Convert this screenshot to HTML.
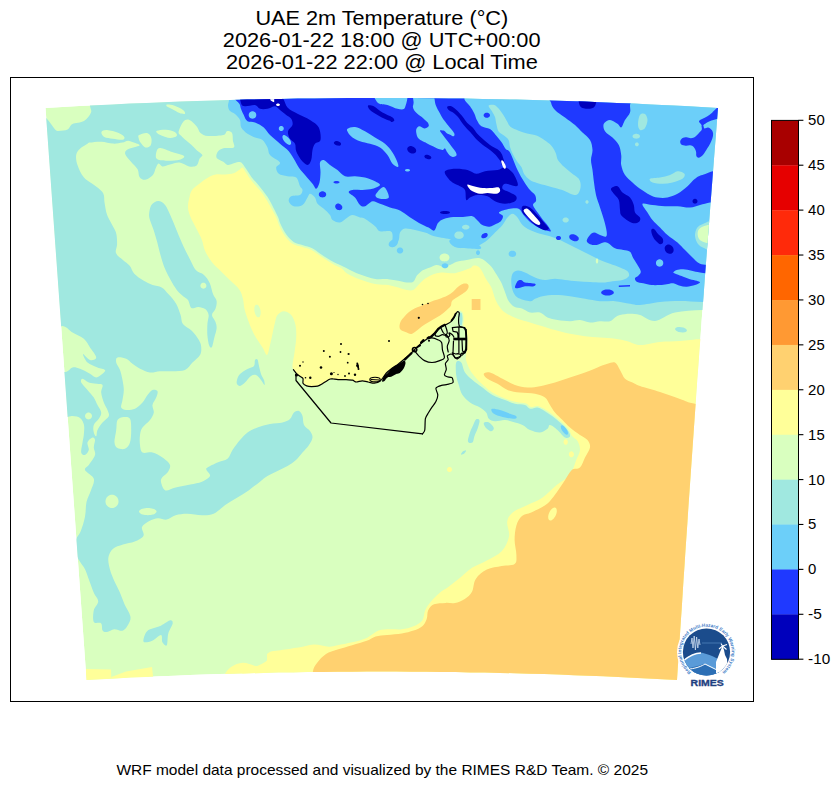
<!DOCTYPE html>
<html><head><meta charset="utf-8"><title>UAE 2m Temperature</title>
<style>
html,body{margin:0;padding:0;background:#fff;}
body{width:840px;height:788px;position:relative;overflow:hidden;font-family:"Liberation Sans",sans-serif;}
svg text{font-family:"Liberation Sans",sans-serif;}
</style></head><body>
<svg width="840" height="788" viewBox="0 0 840 788" style="position:absolute;left:0;top:0">
<defs><clipPath id="dom"><path d="M45.5,108.0 L62.3,107.0 L79.1,106.1 L95.9,105.2 L112.8,104.4 L129.6,103.6 L146.4,102.9 L163.2,102.2 L180.0,101.6 L196.8,101.0 L213.6,100.5 L230.4,100.0 L247.2,99.6 L264.1,99.2 L280.9,98.9 L297.7,98.6 L314.5,98.4 L331.3,98.2 L348.1,98.1 L364.9,98.0 L381.8,98.0 L398.6,98.0 L415.4,98.1 L432.2,98.2 L449.0,98.4 L465.8,98.6 L482.6,98.9 L499.4,99.2 L516.2,99.6 L533.1,100.0 L549.9,100.5 L566.7,101.0 L583.5,101.6 L600.3,102.2 L617.1,102.9 L633.9,103.6 L650.8,104.4 L667.6,105.2 L684.4,106.1 L701.2,107.0 L718.0,108.0 L716.9,122.3 L715.8,136.6 L714.6,150.9 L713.5,165.2 L712.4,179.5 L711.3,193.8 L710.2,208.1 L709.1,222.4 L708.0,236.7 L706.9,251.1 L705.8,265.4 L704.7,279.7 L703.7,294.0 L702.6,308.3 L701.5,322.6 L700.5,336.9 L699.4,351.2 L698.4,365.5 L697.3,379.8 L696.3,394.1 L695.3,408.4 L694.3,422.7 L693.3,437.0 L692.3,451.3 L691.3,465.6 L690.3,479.9 L689.3,494.2 L688.3,508.5 L687.4,522.8 L686.4,537.1 L685.4,551.5 L684.5,565.8 L683.5,580.1 L682.6,594.4 L681.7,608.7 L680.7,623.0 L679.8,637.3 L678.9,651.6 L677.9,665.9 L677.0,680.0 L662.2,679.2 L647.5,678.4 L632.7,677.7 L618.0,677.0 L603.2,676.3 L588.4,675.7 L573.7,675.2 L558.9,674.6 L544.1,674.1 L529.4,673.7 L514.6,673.3 L499.9,672.9 L485.1,672.6 L470.3,672.4 L455.6,672.1 L440.8,671.9 L426.0,671.8 L411.3,671.7 L396.5,671.6 L381.8,671.6 L367.0,671.6 L352.2,671.7 L337.5,671.8 L322.7,671.9 L307.9,672.1 L293.2,672.4 L278.4,672.6 L263.6,672.9 L248.9,673.3 L234.1,673.7 L219.4,674.1 L204.6,674.6 L189.8,675.1 L175.1,675.7 L160.3,676.3 L145.5,677.0 L130.8,677.6 L116.0,678.4 L101.3,679.2 L86.5,680.0Z"/></clipPath></defs>
<rect x="0" y="0" width="840" height="788" fill="#ffffff"/>
<g clip-path="url(#dom)" shape-rendering="geometricPrecision">
<path d="M45.5,108.0 L62.3,107.0 L79.1,106.1 L95.9,105.2 L112.8,104.4 L129.6,103.6 L146.4,102.9 L163.2,102.2 L180.0,101.6 L196.8,101.0 L213.6,100.5 L230.4,100.0 L247.2,99.6 L264.1,99.2 L280.9,98.9 L297.7,98.6 L314.5,98.4 L331.3,98.2 L348.1,98.1 L364.9,98.0 L381.8,98.0 L398.6,98.0 L415.4,98.1 L432.2,98.2 L449.0,98.4 L465.8,98.6 L482.6,98.9 L499.4,99.2 L516.2,99.6 L533.1,100.0 L549.9,100.5 L566.7,101.0 L583.5,101.6 L600.3,102.2 L617.1,102.9 L633.9,103.6 L650.8,104.4 L667.6,105.2 L684.4,106.1 L701.2,107.0 L718.0,108.0 L716.9,122.3 L715.8,136.6 L714.6,150.9 L713.5,165.2 L712.4,179.5 L711.3,193.8 L710.2,208.1 L709.1,222.4 L708.0,236.7 L706.9,251.1 L705.8,265.4 L704.7,279.7 L703.7,294.0 L702.6,308.3 L701.5,322.6 L700.5,336.9 L699.4,351.2 L698.4,365.5 L697.3,379.8 L696.3,394.1 L695.3,408.4 L694.3,422.7 L693.3,437.0 L692.3,451.3 L691.3,465.6 L690.3,479.9 L689.3,494.2 L688.3,508.5 L687.4,522.8 L686.4,537.1 L685.4,551.5 L684.5,565.8 L683.5,580.1 L682.6,594.4 L681.7,608.7 L680.7,623.0 L679.8,637.3 L678.9,651.6 L677.9,665.9 L677.0,680.0 L662.2,679.2 L647.5,678.4 L632.7,677.7 L618.0,677.0 L603.2,676.3 L588.4,675.7 L573.7,675.2 L558.9,674.6 L544.1,674.1 L529.4,673.7 L514.6,673.3 L499.9,672.9 L485.1,672.6 L470.3,672.4 L455.6,672.1 L440.8,671.9 L426.0,671.8 L411.3,671.7 L396.5,671.6 L381.8,671.6 L367.0,671.6 L352.2,671.7 L337.5,671.8 L322.7,671.9 L307.9,672.1 L293.2,672.4 L278.4,672.6 L263.6,672.9 L248.9,673.3 L234.1,673.7 L219.4,674.1 L204.6,674.6 L189.8,675.1 L175.1,675.7 L160.3,676.3 L145.5,677.0 L130.8,677.6 L116.0,678.4 L101.3,679.2 L86.5,680.0Z" fill="#d9ffbf"/>
<path d="M90.0,90.0C141.7,86.6 292.5,85.0 400.0,85.0C507.5,85.0 679.2,52.3 735.0,90.0C790.8,127.7 740.3,274.3 735.0,311.0C729.7,347.7 713.0,309.8 703.0,310.0C693.0,310.2 683.0,310.7 675.0,312.5C667.0,314.3 660.8,320.6 655.0,321.0C649.2,321.4 644.2,316.2 640.0,315.0C635.8,313.8 633.3,313.8 630.0,313.8C626.7,313.8 622.5,314.4 620.0,315.0C617.5,315.6 616.7,316.5 615.0,317.5C613.3,318.5 612.5,320.6 610.0,321.2C607.5,321.9 603.3,321.0 600.0,321.2C596.7,321.5 593.3,322.7 590.0,322.5C586.7,322.3 583.3,320.2 580.0,320.0C576.7,319.8 573.8,321.2 570.0,321.2C566.2,321.2 561.2,320.6 557.5,320.0C553.8,319.4 550.4,318.8 547.5,317.5C544.6,316.2 542.9,313.3 540.0,312.5C537.1,311.7 533.0,313.1 530.0,312.5C527.0,311.9 524.6,309.6 522.0,308.6C519.4,307.6 516.5,308.0 514.3,306.7C512.1,305.4 510.2,303.6 508.6,301.0C507.0,298.4 506.1,294.6 504.8,291.4C503.5,288.2 502.6,285.2 501.0,282.0C499.4,278.8 497.1,275.3 495.2,272.4C493.3,269.5 492.0,267.1 489.5,264.8C487.0,262.5 483.8,259.1 480.0,258.3C476.2,257.5 470.6,259.4 466.7,260.0C462.8,260.6 459.5,260.9 456.7,261.7C453.9,262.5 452.2,264.2 450.0,265.0C447.8,265.8 445.5,266.7 443.3,266.7C441.1,266.7 438.9,264.9 436.7,265.0C434.5,265.1 432.2,266.7 430.0,267.5C427.8,268.3 425.0,269.2 423.3,270.0C421.6,270.8 421.1,271.5 420.0,272.5C418.9,273.5 417.8,274.3 416.7,275.8C415.6,277.3 415.0,280.6 413.3,281.7C411.6,282.8 409.2,282.6 406.7,282.5C404.2,282.4 401.4,281.4 398.3,280.8C395.2,280.2 391.9,279.5 388.3,279.2C384.7,278.9 380.3,279.6 376.7,279.2C373.1,278.8 370.0,277.7 366.7,276.7C363.4,275.7 360.0,274.7 356.7,273.3C353.4,271.9 349.5,269.7 346.7,268.3C343.9,266.9 342.2,266.1 340.0,265.0C337.8,263.9 336.6,263.8 333.5,262.0C330.4,260.2 324.9,256.7 321.3,254.4C317.8,252.1 315.2,249.8 312.2,248.3C309.1,246.8 306.1,246.2 303.0,245.2C299.9,244.2 296.7,244.0 293.9,242.2C291.1,240.4 288.5,237.6 286.3,234.6C284.1,231.6 281.9,226.9 280.5,224.0C279.1,221.1 279.2,219.7 278.0,217.0C276.8,214.3 275.1,211.1 273.5,208.0C271.9,204.9 270.2,201.2 268.5,198.5C266.8,195.8 265.3,193.9 263.5,191.5C261.7,189.1 259.5,186.4 257.5,184.0C255.5,181.6 253.2,179.4 251.4,177.0C249.6,174.6 248.3,172.1 246.7,169.8C245.1,167.5 243.4,164.5 242.0,163.2C240.6,161.9 239.9,161.9 238.3,162.0C236.7,162.1 234.2,163.3 232.4,163.8C230.6,164.3 229.1,165.3 227.6,165.0C226.1,164.7 225.1,162.9 223.3,161.7C221.5,160.5 217.6,159.5 216.7,157.9C215.8,156.3 216.5,153.6 217.6,152.0C218.7,150.4 220.6,149.1 223.3,148.3C226.0,147.5 232.2,148.7 233.8,147.4C235.4,146.1 233.2,143.1 232.9,140.7C232.6,138.3 233.0,134.6 232.0,133.0C231.0,131.4 228.4,130.9 227.0,131.2C225.6,131.5 226.5,134.2 223.3,135.0C220.1,135.8 211.8,136.3 208.0,136.0C204.2,135.7 202.4,134.6 200.5,133.0C198.6,131.4 198.6,128.6 196.7,126.4C194.8,124.2 191.2,120.6 189.0,119.8C186.8,119.0 185.0,119.7 183.3,121.7C181.6,123.7 178.9,129.6 178.6,132.0C178.3,134.4 180.3,134.7 181.4,136.0C182.5,137.3 183.6,138.4 185.2,139.8C186.8,141.2 189.1,142.8 191.0,144.5C192.9,146.2 194.8,148.4 196.7,150.2C198.6,151.9 201.9,153.6 202.4,155.0C202.9,156.4 200.4,157.1 199.5,158.8C198.6,160.6 198.4,164.2 196.7,165.5C194.9,166.8 191.9,166.9 189.0,166.4C186.1,165.9 182.7,162.9 179.5,162.6C176.3,162.3 172.8,163.9 170.0,164.5C167.2,165.1 164.3,166.6 162.4,166.4C160.5,166.2 159.7,163.3 158.6,163.6C157.5,163.9 156.6,166.4 155.7,168.3C154.8,170.2 154.7,173.1 152.9,175.0C151.2,176.9 147.4,179.5 145.2,179.8C143.0,180.1 140.8,178.7 139.5,176.9C138.2,175.2 139.0,171.8 137.6,169.3C136.2,166.8 133.1,164.2 131.0,161.7C128.9,159.1 125.7,156.1 125.2,154.0C124.7,151.9 125.6,150.7 128.0,149.3C130.4,147.9 138.5,146.6 139.5,145.5C140.5,144.4 135.7,143.4 133.8,142.6C131.9,141.8 129.9,140.7 128.0,140.7C126.1,140.7 124.9,142.1 122.4,142.6C119.9,143.1 116.4,143.8 112.9,143.6C109.4,143.4 105.2,141.9 101.4,141.7C97.6,141.5 92.3,142.3 90.0,142.6C87.7,142.9 89.2,142.7 87.5,143.8C85.8,144.8 81.9,146.9 80.0,148.8C78.1,150.6 76.7,152.3 76.2,155.0C75.8,157.7 76.2,161.2 77.5,165.0C78.8,168.8 80.7,173.8 84.0,177.5C87.3,181.2 94.3,184.8 97.5,187.5C100.7,190.2 102.2,191.1 103.4,193.7C104.6,196.3 104.0,199.5 104.6,202.9C105.2,206.3 105.8,210.9 106.9,214.3C108.0,217.7 109.9,220.4 111.4,223.4C112.9,226.4 115.0,229.2 116.0,232.6C117.0,236.0 117.1,240.6 117.1,244.0C117.1,247.4 115.0,250.4 116.0,253.1C117.0,255.8 120.6,257.9 122.9,260.0C125.2,262.1 127.8,263.4 129.7,265.7C131.6,268.0 132.0,271.2 134.3,273.7C136.6,276.2 140.4,278.7 143.4,280.6C146.4,282.5 149.6,284.0 152.6,285.1C155.6,286.2 159.0,285.9 161.7,287.4C164.4,288.9 166.2,291.6 168.6,294.3C171.0,297.0 174.0,300.0 176.0,303.4C178.0,306.8 179.4,311.5 180.6,314.9C181.8,318.3 181.0,321.3 182.9,324.0C184.8,326.7 189.3,328.2 192.0,330.9C194.7,333.6 197.4,337.3 198.9,340.0C200.4,342.7 201.1,344.5 201.2,347.0C201.4,349.5 201.5,352.4 200.0,355.0C198.5,357.6 195.0,360.0 192.5,362.5C190.0,365.0 188.3,368.5 185.0,370.0C181.7,371.5 176.7,371.0 172.5,371.2C168.3,371.5 163.8,371.0 160.0,371.2C156.2,371.5 153.3,372.9 150.0,372.5C146.7,372.1 142.9,370.2 140.0,368.8C137.1,367.3 134.8,365.4 132.5,363.8C130.2,362.1 128.8,359.8 126.2,358.8C123.8,357.7 119.2,356.9 117.5,357.5C115.8,358.1 115.8,360.4 116.2,362.5C116.7,364.6 119.0,367.1 120.0,370.0C121.0,372.9 121.9,376.7 122.5,380.0C123.1,383.3 123.8,386.7 123.8,390.0C123.8,393.3 122.9,397.1 122.5,400.0C122.1,402.9 120.6,405.8 121.2,407.5C121.9,409.2 124.0,409.8 126.2,410.0C128.5,410.2 132.3,410.0 135.0,408.8C137.7,407.5 140.4,404.8 142.5,402.5C144.6,400.2 145.8,397.1 147.5,395.0C149.2,392.9 150.8,390.6 152.5,390.0C154.2,389.4 156.9,390.0 157.5,391.2C158.1,392.5 157.1,395.2 156.2,397.5C155.4,399.8 152.9,402.5 152.5,405.0C152.1,407.5 154.2,410.0 153.8,412.5C153.3,415.0 151.9,417.5 150.0,420.0C148.1,422.5 144.2,425.0 142.5,427.5C140.8,430.0 140.4,432.1 140.0,435.0C139.6,437.9 139.6,442.1 140.0,445.0C140.4,447.9 140.4,451.2 142.5,452.5C144.6,453.8 149.2,451.7 152.5,452.5C155.8,453.3 159.6,455.4 162.5,457.5C165.4,459.6 169.2,462.5 170.0,465.0C170.8,467.5 168.8,470.5 167.5,472.5C166.2,474.5 163.6,475.4 162.5,477.0C161.4,478.6 160.5,479.8 161.0,482.0C161.5,484.2 163.0,489.5 165.4,490.4C167.8,491.3 171.5,488.5 175.6,487.5C179.7,486.5 185.8,485.6 190.2,484.6C194.6,483.6 198.6,483.1 201.9,481.7C205.2,480.3 209.2,477.9 210.0,476.0C210.8,474.1 206.9,471.4 206.5,470.0C206.1,468.6 205.7,468.8 207.5,467.5C209.3,466.2 214.2,464.0 217.5,462.5C220.8,461.0 225.0,460.8 227.5,458.8C230.0,456.7 230.4,453.1 232.5,450.0C234.6,446.9 237.5,442.9 240.0,440.0C242.5,437.1 244.6,434.6 247.5,432.5C250.4,430.4 253.8,428.9 257.5,427.5C261.2,426.1 265.8,424.8 270.0,424.0C274.2,423.2 279.2,423.3 282.5,422.5C285.8,421.7 288.1,420.7 290.0,419.0C291.9,417.3 292.5,413.8 294.0,412.5C295.5,411.2 297.6,410.4 299.0,411.0C300.4,411.6 301.7,413.7 302.5,416.0C303.3,418.3 302.8,422.5 304.0,425.0C305.2,427.5 308.6,428.9 310.0,431.0C311.4,433.1 312.7,435.2 312.5,437.5C312.3,439.8 310.7,442.5 309.0,445.0C307.3,447.5 304.7,450.0 302.5,452.5C300.3,455.0 298.5,457.8 296.0,460.0C293.5,462.2 290.6,464.2 287.5,466.0C284.4,467.8 280.8,469.3 277.5,471.0C274.2,472.7 270.4,474.2 267.5,476.0C264.6,477.8 263.1,479.3 260.0,481.7C256.9,484.1 252.4,487.7 248.6,490.4C244.8,493.1 240.9,495.3 237.0,497.7C233.1,500.1 229.1,502.3 225.2,505.0C221.3,507.7 217.5,512.1 213.6,513.8C209.7,515.5 206.3,515.3 201.9,515.3C197.5,515.3 191.7,513.8 187.3,513.8C182.9,513.8 179.0,514.3 175.6,515.3C172.2,516.3 169.7,519.1 166.8,519.6C163.9,520.1 160.9,518.0 158.0,518.2C155.1,518.4 152.0,519.5 149.3,521.0C146.6,522.5 143.0,524.5 142.0,527.0C141.0,529.5 144.7,533.3 143.5,535.7C142.3,538.1 138.1,540.1 134.7,541.6C131.3,543.1 126.7,543.3 123.0,544.5C119.3,545.7 115.2,546.7 112.8,548.9C110.4,551.1 108.9,554.2 108.4,557.6C107.9,561.0 108.9,565.4 109.9,569.3C110.9,573.2 112.6,577.1 114.3,581.0C116.0,584.9 118.3,588.8 120.0,592.7C121.7,596.6 122.8,600.4 124.5,604.3C126.2,608.2 129.6,612.8 130.3,616.0C131.0,619.2 130.1,620.9 128.9,623.3C127.7,625.7 125.4,629.6 123.0,630.6C120.6,631.6 117.0,629.0 114.3,629.2C111.6,629.4 109.0,631.8 107.0,632.0C105.0,632.2 103.6,632.1 102.6,630.6C101.6,629.1 102.5,624.8 101.0,623.3C99.5,621.8 95.0,624.1 93.8,621.9C92.6,619.7 93.1,613.6 93.8,610.2C94.5,606.8 98.2,604.3 98.2,601.4C98.2,598.5 95.3,596.1 93.8,592.7C92.3,589.3 90.9,584.9 89.4,581.0C87.9,577.1 86.7,572.7 85.0,569.3C83.3,565.9 80.7,563.2 79.2,560.5C77.7,557.8 76.5,556.4 76.0,553.0C75.5,549.6 75.2,543.6 76.0,540.0C76.8,536.4 79.2,535.2 80.7,531.3C82.2,527.4 84.0,521.6 85.0,516.7C86.0,511.8 85.5,506.4 86.5,502.0C87.5,497.6 89.7,494.3 90.9,490.4C92.1,486.5 94.8,482.2 93.8,478.8C92.8,475.4 85.8,472.3 85.0,470.0C84.2,467.7 87.1,467.5 88.8,465.0C90.4,462.5 94.2,457.9 95.0,455.0C95.8,452.1 93.8,450.0 93.8,447.5C93.8,445.0 95.2,441.7 95.0,440.0C94.8,438.3 93.8,437.1 92.5,437.5C91.2,437.9 88.1,440.4 87.5,442.5C86.9,444.6 89.2,447.9 88.8,450.0C88.3,452.1 86.2,454.6 85.0,455.0C83.8,455.4 81.7,454.6 81.2,452.5C80.8,450.4 82.1,445.4 82.5,442.5C82.9,439.6 83.5,437.9 83.8,435.0C84.0,432.1 84.6,427.8 84.0,425.0C83.4,422.2 82.0,419.5 80.0,418.0C78.0,416.5 76.2,416.3 72.0,416.0C67.8,415.7 57.8,423.3 55.0,416.0C52.2,408.7 53.2,379.3 55.0,372.0C56.8,364.7 63.1,372.8 66.0,372.0C68.9,371.2 70.2,368.0 72.5,367.5C74.8,367.0 77.1,367.7 80.0,368.8C82.9,369.8 87.3,372.3 90.0,373.8C92.7,375.2 94.2,377.5 96.2,377.5C98.3,377.5 101.0,375.0 102.5,373.8C104.0,372.5 105.8,371.0 105.0,370.0C104.2,369.0 100.4,368.8 97.5,367.5C94.6,366.2 89.9,364.8 87.5,362.5C85.1,360.2 82.6,354.4 83.0,354.0C83.4,353.6 87.8,359.4 90.0,360.0C92.2,360.6 96.2,359.6 96.2,357.5C96.2,355.4 92.1,350.6 90.0,347.5C87.9,344.4 86.7,341.2 83.8,338.8C80.8,336.2 76.0,334.6 72.5,332.5C69.0,330.4 67.9,327.4 62.5,326.0C57.1,324.6 44.1,356.5 40.0,324.0C35.9,291.5 35.1,163.2 38.0,131.0C40.9,98.8 52.6,131.2 57.5,131.0C62.4,130.8 65.0,130.7 67.5,129.5C70.0,128.3 69.8,125.4 72.5,124.0C75.2,122.6 80.9,122.9 84.0,121.0C87.1,119.1 90.0,115.1 91.0,112.5C92.0,109.9 90.2,109.2 90.0,105.5C89.8,101.8 38.3,93.4 90.0,90.0Z" fill="#a0e8e0"/>
<path d="M101.4,132.0C101.9,130.8 104.1,129.8 107.0,130.0C109.9,130.2 115.7,131.8 118.6,133.0C121.5,134.2 123.7,135.9 124.3,137.0C124.9,138.1 124.3,139.5 122.4,139.8C120.5,140.1 115.9,139.3 112.9,138.8C109.9,138.3 106.2,138.1 104.3,137.0C102.4,135.9 101.0,133.2 101.4,132.0Z" fill="#d9ffbf"/>
<path d="M139.1,135.0C140.5,134.2 145.1,132.6 147.1,133.1C149.1,133.6 150.7,135.8 151.3,137.9C151.9,140.0 151.6,143.9 150.6,145.5C149.6,147.1 146.9,147.9 145.2,147.4C143.5,146.9 141.6,144.2 140.5,142.6C139.4,141.0 138.8,139.2 138.6,137.9C138.4,136.6 137.7,135.8 139.1,135.0Z" fill="#d9ffbf"/>
<path d="M157.0,130.8C158.5,130.2 163.0,129.5 166.0,129.7C169.0,129.9 173.0,130.9 174.8,132.0C176.6,133.1 177.5,135.0 176.7,136.0C175.9,137.0 172.6,138.0 170.0,137.9C167.4,137.8 163.6,136.2 161.4,135.4C159.2,134.6 157.7,133.8 157.0,133.0C156.3,132.2 155.5,131.4 157.0,130.8Z" fill="#d9ffbf"/>
<path d="M156.7,151.0C157.3,149.2 157.9,147.8 160.5,148.0C163.1,148.2 168.1,150.7 172.0,152.0C175.9,153.3 182.8,154.7 184.0,156.0C185.2,157.3 182.5,159.0 179.5,159.8C176.5,160.6 169.8,160.9 166.0,160.7C162.2,160.5 158.2,160.4 156.7,158.8C155.1,157.2 156.1,152.8 156.7,151.0Z" fill="#d9ffbf"/>
<path d="M167.0,104.5C168.2,104.3 171.3,104.6 174.0,105.5C176.7,106.4 181.2,108.6 183.0,110.0C184.8,111.4 185.6,113.2 185.0,113.7C184.4,114.2 181.7,113.8 179.5,113.0C177.3,112.2 174.1,110.1 172.0,109.0C169.9,107.9 167.8,107.2 167.0,106.5C166.2,105.8 165.8,104.7 167.0,104.5Z" fill="#d9ffbf"/>
<path d="M117.5,420.0C118.8,417.8 121.7,417.2 123.8,417.0C125.8,416.8 128.8,416.6 130.0,418.8C131.2,420.9 131.2,426.0 131.2,430.0C131.2,434.0 131.0,439.4 130.0,442.5C129.0,445.6 127.1,447.8 125.0,448.8C122.9,449.7 119.2,449.0 117.5,448.0C115.8,447.0 114.7,445.5 114.5,442.5C114.3,439.5 115.8,433.8 116.2,430.0C116.8,426.2 116.2,422.2 117.5,420.0Z" fill="#d9ffbf"/>
<path d="M92.0,416.0C92.0,416.7 91.7,417.5 91.3,418.1C90.9,418.6 90.2,419.1 89.6,419.3C88.9,419.5 88.1,419.5 87.4,419.3C86.8,419.1 86.1,418.6 85.7,418.1C85.3,417.5 85.0,416.7 85.0,416.0C85.0,415.3 85.3,414.5 85.7,413.9C86.1,413.4 86.8,412.9 87.4,412.7C88.1,412.5 88.9,412.5 89.6,412.7C90.2,412.9 90.9,413.4 91.3,413.9C91.7,414.5 92.0,415.3 92.0,416.0Z" fill="#d9ffbf"/>
<path d="M118.5,501.4C118.5,502.7 118.0,504.2 117.3,505.3C116.5,506.3 115.2,507.3 114.0,507.7C112.8,508.1 111.2,508.1 110.0,507.7C108.8,507.3 107.5,506.3 106.7,505.3C106.0,504.2 105.5,502.7 105.5,501.4C105.5,500.1 106.0,498.6 106.7,497.5C107.5,496.5 108.8,495.5 110.0,495.1C111.2,494.7 112.8,494.7 114.0,495.1C115.2,495.5 116.5,496.5 117.3,497.5C118.0,498.6 118.5,500.1 118.5,501.4Z" fill="#d9ffbf"/>
<path d="M156.6,511.6C156.6,512.3 155.9,513.1 154.9,513.7C153.9,514.3 152.2,514.8 150.5,515.0C148.9,515.2 146.7,515.2 145.1,515.0C143.4,514.8 141.7,514.3 140.7,513.7C139.7,513.1 139.0,512.3 139.0,511.6C139.0,510.9 139.7,510.1 140.7,509.5C141.7,508.9 143.4,508.4 145.1,508.2C146.7,508.0 148.9,508.0 150.5,508.2C152.2,508.4 153.9,508.9 154.9,509.5C155.9,510.1 156.6,510.9 156.6,511.6Z" fill="#d9ffbf"/>
<path d="M206.4,285.7C206.4,286.3 206.2,287.0 205.8,287.5C205.5,287.9 204.9,288.4 204.3,288.6C203.8,288.7 203.0,288.7 202.5,288.6C201.9,288.4 201.3,287.9 201.0,287.5C200.6,287.0 200.4,286.3 200.4,285.7C200.4,285.1 200.6,284.4 201.0,283.9C201.3,283.5 201.9,283.0 202.5,282.8C203.0,282.7 203.8,282.7 204.3,282.8C204.9,283.0 205.5,283.5 205.8,283.9C206.2,284.4 206.4,285.1 206.4,285.7Z" fill="#d9ffbf"/>
<path d="M149.1,214.3C149.3,211.6 149.9,207.3 151.4,205.1C152.9,202.9 156.0,201.0 158.3,201.0C160.6,201.0 163.0,202.5 165.1,205.1C167.2,207.7 169.0,212.4 170.9,216.6C172.8,220.8 174.5,225.4 176.6,230.3C178.7,235.2 181.1,241.4 183.4,246.3C185.7,251.2 188.2,256.0 190.3,260.0C192.4,264.0 193.7,267.8 196.0,270.3C198.3,272.8 201.7,272.8 204.0,274.9C206.3,277.0 208.2,279.7 209.7,282.9C211.2,286.1 211.9,291.3 213.1,294.3C214.2,297.3 216.2,298.6 216.6,301.1C217.0,303.6 216.2,306.8 215.4,309.1C214.6,311.4 212.0,312.8 212.0,314.9C212.0,317.0 214.6,319.4 215.4,321.7C216.2,324.0 216.8,325.9 216.6,328.6C216.4,331.3 215.1,334.6 214.3,337.7C213.5,340.8 212.8,345.6 212.0,346.9C211.2,348.2 210.1,347.6 209.3,345.7C208.5,343.8 207.7,339.0 207.4,335.4C207.1,331.8 207.2,327.4 207.4,324.0C207.6,320.6 209.0,317.4 208.6,314.9C208.2,312.4 206.8,310.4 205.1,309.1C203.4,307.8 200.6,307.1 198.3,306.9C196.0,306.7 193.1,309.1 191.4,308.0C189.7,306.9 189.5,302.1 188.0,300.0C186.5,297.9 184.2,297.1 182.3,295.4C180.4,293.7 178.5,292.2 176.6,289.7C174.7,287.2 172.8,284.0 170.9,280.6C169.0,277.2 166.8,273.3 165.1,269.1C163.4,264.9 161.9,260.0 160.6,255.4C159.3,250.8 158.2,245.9 157.1,241.7C155.9,237.5 154.8,233.7 153.7,230.3C152.6,226.9 151.1,223.8 150.3,221.1C149.5,218.4 148.9,217.0 149.1,214.3Z" fill="#a0e8e0"/>
<path d="M206.4,285.7C206.4,286.3 206.2,287.0 205.8,287.5C205.5,287.9 204.9,288.4 204.3,288.6C203.8,288.7 203.0,288.7 202.5,288.6C201.9,288.4 201.3,287.9 201.0,287.5C200.6,287.0 200.4,286.3 200.4,285.7C200.4,285.1 200.6,284.4 201.0,283.9C201.3,283.5 201.9,283.0 202.5,282.8C203.0,282.7 203.8,282.7 204.3,282.8C204.9,283.0 205.5,283.5 205.8,283.9C206.2,284.4 206.4,285.1 206.4,285.7Z" fill="#d9ffbf"/>
<path d="M237.0,380.0C237.5,378.3 238.2,375.8 240.0,374.0C241.8,372.2 245.2,370.3 247.5,369.0C249.8,367.7 252.8,367.5 254.0,366.0C255.2,364.5 254.4,361.1 255.0,360.0C255.6,358.9 256.8,358.5 257.5,359.5C258.2,360.5 258.4,363.6 259.0,366.0C259.6,368.4 260.2,371.7 261.0,374.0C261.8,376.3 263.4,378.2 264.0,380.0C264.6,381.8 265.0,385.0 264.5,385.0C264.0,385.0 262.4,381.7 261.0,380.0C259.6,378.3 257.7,375.7 256.0,375.0C254.3,374.3 252.8,374.8 251.0,376.0C249.2,377.2 246.8,380.8 245.0,382.5C243.2,384.2 241.3,385.8 240.0,386.0C238.7,386.2 237.5,385.0 237.0,384.0C236.5,383.0 236.5,381.7 237.0,380.0Z" fill="#a0e8e0"/>
<path d="M143.5,639.4C144.0,637.5 145.1,632.8 147.8,630.6C150.5,628.4 155.8,628.0 159.5,626.3C163.2,624.6 167.5,620.9 169.7,620.4C171.9,619.9 172.9,621.1 172.7,623.3C172.5,625.5 169.3,629.9 168.3,633.5C167.3,637.1 167.8,643.7 166.8,645.2C165.8,646.7 163.4,644.0 162.4,642.3C161.4,640.6 162.7,635.2 161.0,635.0C159.3,634.8 154.9,639.6 152.2,640.8C149.5,642.0 146.3,642.5 144.9,642.3C143.5,642.1 143.0,641.3 143.5,639.4Z" fill="#a0e8e0"/>
<path d="M82.5,378.8C83.8,378.8 86.5,381.7 88.8,382.5C91.0,383.3 94.0,383.3 96.2,383.8C98.5,384.2 101.7,383.5 102.5,385.0C103.3,386.5 101.0,389.6 101.2,392.5C101.5,395.4 102.7,399.6 103.8,402.5C104.8,405.4 106.7,407.7 107.5,410.0C108.3,412.3 109.6,414.2 108.8,416.2C107.9,418.3 104.4,420.2 102.5,422.5C100.6,424.8 98.5,427.7 97.5,430.0C96.5,432.3 96.9,435.8 96.2,436.2C95.6,436.7 94.2,434.4 93.8,432.5C93.3,430.6 92.9,427.3 93.8,425.0C94.6,422.7 97.5,420.8 98.8,418.8C100.0,416.7 101.5,414.8 101.2,412.5C101.0,410.2 98.8,407.5 97.5,405.0C96.2,402.5 95.4,400.0 93.8,397.5C92.1,395.0 89.6,392.5 87.5,390.0C85.4,387.5 82.1,384.4 81.2,382.5C80.4,380.6 81.2,378.8 82.5,378.8Z" fill="#d9ffbf"/>
<path d="M239.5,169.8C238.0,170.8 236.0,172.5 233.6,173.3C231.2,174.1 228.2,174.3 225.2,174.5C222.2,174.7 218.7,173.9 215.7,174.5C212.7,175.1 210.2,176.4 207.4,178.0C204.6,179.6 201.6,182.0 199.0,184.0C196.4,186.0 193.6,187.8 192.0,190.0C190.4,192.2 190.2,194.2 189.5,197.0C188.8,199.8 187.9,203.7 188.0,207.0C188.1,210.3 189.0,213.1 190.3,216.6C191.6,220.1 194.1,224.2 196.0,228.0C197.9,231.8 200.2,235.6 201.7,239.4C203.2,243.2 203.4,247.1 205.1,250.9C206.8,254.7 209.3,258.9 212.0,262.3C214.7,265.7 218.0,268.3 221.1,271.4C224.2,274.4 227.2,277.6 230.3,280.6C233.4,283.7 237.3,286.6 239.4,289.7C241.5,292.8 242.2,295.8 243.0,299.0C243.8,302.2 243.7,305.5 244.5,309.0C245.3,312.5 246.8,316.5 248.0,320.0C249.2,323.5 250.6,327.0 252.0,330.0C253.4,333.0 254.5,335.1 256.2,338.0C258.0,340.9 260.7,344.7 262.5,347.5C264.3,350.3 265.8,355.4 267.0,355.0C268.2,354.6 269.1,348.5 270.0,345.0C270.9,341.5 271.7,337.5 272.5,333.8C273.3,330.0 274.2,325.6 275.0,322.5C275.8,319.4 276.0,316.9 277.5,315.0C279.0,313.1 281.5,311.2 283.8,311.2C286.0,311.2 289.3,312.7 291.2,315.0C293.2,317.3 294.7,321.2 295.5,325.0C296.3,328.8 296.4,332.9 296.2,337.5C296.1,342.1 295.1,347.9 294.5,352.5C293.9,357.1 292.7,362.1 292.5,365.0C292.3,367.9 292.7,368.3 293.4,369.7C294.1,371.1 295.5,372.6 296.5,373.6C297.5,374.7 298.4,375.2 299.5,376.0C300.6,376.8 302.4,377.2 303.0,378.4C303.6,379.6 302.4,381.9 303.0,383.2C303.6,384.4 305.3,385.3 306.7,385.9C308.1,386.5 309.7,386.6 311.5,386.6C313.3,386.7 315.8,386.7 317.6,386.2C319.4,385.7 321.0,384.6 322.4,383.8C323.8,383.0 324.7,382.2 326.0,381.4C327.3,380.6 329.0,379.4 330.2,379.0C331.4,378.6 332.0,378.9 333.3,379.0C334.6,379.1 336.0,379.5 338.0,379.6C340.0,379.7 342.9,379.5 345.3,379.6C347.7,379.7 350.7,379.8 352.5,380.2C354.3,380.6 354.6,381.9 356.2,382.0C357.8,382.1 360.2,380.8 362.2,380.8C364.2,380.8 366.2,381.6 368.2,382.0C370.2,382.4 372.3,383.4 374.3,383.2C376.3,383.0 378.3,382.7 380.3,381.0C382.3,379.3 384.4,375.1 386.4,373.0C388.3,370.9 390.1,369.6 392.0,368.2C393.9,366.8 395.9,365.8 397.8,364.4C399.7,363.0 401.6,361.3 403.5,359.7C405.4,358.1 407.4,356.5 409.2,354.9C410.9,353.3 412.4,351.8 414.0,350.2C415.6,348.6 417.1,347.0 418.8,345.4C420.6,343.8 422.6,342.1 424.5,340.7C426.4,339.3 428.3,338.2 430.2,336.8C432.1,335.4 434.2,333.6 435.9,332.0C437.6,330.4 438.9,328.6 440.6,327.3C442.3,326.1 444.6,325.4 446.3,324.5C448.0,323.6 449.7,322.7 451.0,321.6C452.3,320.5 453.2,319.1 454.0,317.8C454.8,316.5 455.2,315.2 455.8,314.0C456.4,312.8 456.9,311.3 457.7,310.8C458.5,310.3 459.6,310.4 460.5,310.8C461.4,311.2 462.5,312.0 463.0,313.5C463.5,315.0 463.6,318.0 463.6,320.0C463.6,322.0 462.9,324.2 463.2,325.5C463.5,326.8 464.9,326.2 465.5,327.5C466.1,328.8 466.7,330.8 467.0,333.0C467.3,335.2 467.5,338.1 467.5,340.6C467.5,343.2 467.2,345.9 467.0,348.3C466.8,350.7 466.2,353.1 466.0,355.0C465.8,356.9 465.3,357.5 466.0,360.0C466.7,362.5 468.3,367.0 470.0,370.0C471.7,373.0 473.7,375.3 476.0,378.0C478.3,380.7 481.2,383.5 484.0,386.0C486.8,388.5 489.5,390.9 493.0,393.0C496.5,395.1 501.2,397.0 505.0,398.5C508.8,400.0 512.5,401.2 516.0,402.0C519.5,402.8 523.5,402.7 526.0,403.5C528.5,404.3 529.0,406.6 531.0,407.0C533.0,407.4 535.5,405.5 538.0,406.0C540.5,406.5 543.5,408.5 546.0,410.0C548.5,411.5 550.5,413.1 553.0,415.0C555.5,416.9 558.4,419.2 561.0,421.5C563.6,423.8 566.7,426.6 568.5,429.0C570.3,431.4 570.5,434.0 572.0,436.0C573.5,438.0 576.2,438.7 577.5,441.0C578.8,443.3 580.2,446.8 580.0,450.0C579.8,453.2 577.5,456.7 576.2,460.0C575.0,463.3 573.9,467.2 572.5,470.0C571.1,472.8 570.6,474.5 568.0,477.0C565.4,479.5 561.3,481.4 557.0,484.8C552.7,488.2 547.2,494.3 542.3,497.7C537.4,501.1 532.4,502.6 527.5,505.0C522.6,507.4 516.1,509.6 512.7,512.4C509.3,515.2 507.8,517.7 507.2,521.7C506.6,525.7 509.9,531.5 509.0,536.4C508.1,541.3 505.4,547.2 501.7,551.2C498.0,555.2 491.8,557.6 486.9,560.4C481.9,563.2 476.3,565.0 472.0,567.8C467.7,570.6 464.9,573.8 461.0,577.0C457.1,580.2 452.1,584.2 448.6,586.8C445.1,589.4 442.7,590.3 439.8,592.7C436.9,595.1 433.4,598.5 431.0,601.4C428.6,604.3 426.6,607.0 425.2,610.2C423.8,613.4 424.2,617.7 422.3,620.4C420.4,623.1 417.0,624.7 413.6,626.2C410.2,627.7 405.8,628.7 401.9,629.2C398.0,629.7 394.1,629.0 390.2,629.2C386.3,629.4 382.4,629.1 378.5,630.6C374.6,632.1 371.2,636.0 366.8,638.0C362.4,640.0 357.1,641.1 352.2,642.3C347.3,643.5 341.5,644.5 337.6,645.2C333.7,645.9 332.8,646.8 328.9,646.7C325.0,646.6 318.7,644.6 314.3,644.6C309.9,644.6 307.5,645.9 302.6,646.7C297.7,647.5 290.6,648.6 285.0,649.6C279.4,650.6 272.0,650.8 269.0,652.5C266.0,654.2 267.3,653.8 267.0,660.0C266.7,666.2 194.8,683.3 267.0,690.0C339.2,696.7 621.2,700.0 700.0,700.0C778.8,700.0 733.3,750.2 740.0,690.0C746.7,629.8 746.2,397.5 740.0,339.0C733.8,280.5 713.0,338.7 703.0,339.0C693.0,339.3 687.2,340.5 680.0,341.0C672.8,341.5 666.7,341.3 660.0,342.0C653.3,342.7 645.4,345.1 640.0,345.0C634.6,344.9 631.7,342.3 627.5,341.2C623.3,340.2 619.6,339.4 615.0,338.8C610.4,338.1 605.0,337.9 600.0,337.5C595.0,337.1 590.0,336.9 585.0,336.2C580.0,335.6 575.0,334.8 570.0,333.8C565.0,332.7 559.6,331.2 555.0,330.0C550.4,328.8 546.7,327.5 542.5,326.2C538.3,325.0 534.2,323.8 530.0,322.5C525.8,321.2 521.7,320.4 517.5,318.8C513.3,317.1 508.1,314.6 505.0,312.5C501.9,310.4 500.6,308.2 499.0,306.0C497.4,303.8 496.5,302.1 495.2,299.0C493.9,295.9 492.9,290.9 491.4,287.6C489.9,284.3 487.9,282.3 486.0,279.0C484.1,275.7 482.0,270.2 480.0,268.0C478.0,265.8 475.7,265.4 474.0,265.5C472.3,265.6 472.3,267.3 470.0,268.3C467.7,269.3 462.8,270.9 460.0,271.7C457.2,272.5 456.1,273.2 453.3,273.3C450.5,273.4 446.1,272.5 443.3,272.5C440.5,272.5 438.9,272.8 436.7,273.3C434.5,273.9 432.2,274.7 430.0,275.8C427.8,276.9 425.2,278.5 423.3,280.0C421.4,281.5 420.0,283.3 418.3,285.0C416.6,286.7 415.2,289.2 413.3,290.0C411.4,290.8 409.2,290.4 406.7,290.0C404.2,289.6 401.4,288.3 398.3,287.5C395.2,286.7 391.9,285.6 388.3,285.0C384.7,284.4 380.3,284.8 376.7,284.2C373.1,283.6 370.0,282.7 366.7,281.7C363.4,280.7 360.0,279.7 356.7,278.3C353.4,276.9 349.2,275.0 346.7,273.3C344.2,271.6 343.9,269.9 341.5,268.3C339.1,266.7 336.0,265.8 332.5,263.7C329.0,261.6 324.0,258.3 320.5,256.0C317.0,253.7 314.5,251.5 311.5,250.0C308.5,248.5 305.7,248.0 302.5,247.0C299.3,246.0 295.4,245.6 292.5,243.8C289.6,242.0 287.2,239.0 285.0,236.0C282.8,233.0 280.9,229.0 279.5,226.0C278.1,223.0 277.8,220.8 276.5,218.0C275.2,215.2 273.4,211.9 271.8,209.0C270.2,206.1 268.6,203.1 267.0,200.5C265.4,197.9 264.2,195.8 262.5,193.5C260.8,191.2 258.5,188.8 256.5,186.5C254.5,184.2 252.4,181.8 250.7,179.5C248.9,177.2 247.4,174.5 246.0,172.5C244.6,170.5 243.6,167.9 242.5,167.5C241.4,167.1 241.0,168.8 239.5,169.8Z" fill="#ffff99"/>
<path d="M260.5,310.5C260.7,311.7 260.7,313.3 260.6,314.3C260.4,315.4 260.0,316.4 259.5,316.9C259.0,317.4 258.3,317.5 257.7,317.2C257.0,317.0 256.3,316.1 255.8,315.2C255.3,314.2 254.8,312.8 254.5,311.5C254.3,310.3 254.3,308.7 254.4,307.7C254.6,306.6 255.0,305.6 255.5,305.1C256.0,304.6 256.7,304.5 257.3,304.8C258.0,305.0 258.7,305.9 259.2,306.8C259.7,307.8 260.2,309.2 260.5,310.5Z" fill="#d9ffbf"/>
<path d="M86.0,669.0 L111.0,669.5 L111.5,685.0 L86.0,685.0Z" fill="#ffff99"/>
<path d="M111.3,677.0 L126.0,671.5 L152.0,667.0 L154.0,685.0 L111.0,685.0Z" fill="#ffff99"/>
<path d="M223.8,676.0C225.1,673.0 227.8,669.2 231.0,667.0C234.2,664.8 238.9,663.0 242.8,662.8C246.7,662.6 251.2,664.8 254.4,665.7C257.6,666.6 260.7,664.8 262.0,668.0C263.3,671.2 268.5,682.2 262.0,685.0C255.5,687.8 229.4,686.5 223.0,685.0C216.6,683.5 222.5,679.0 223.8,676.0Z" fill="#ffff99"/>
<path d="M483.8,373.8C484.2,372.7 486.9,371.7 490.0,372.5C493.1,373.3 498.3,376.7 502.5,378.8C506.7,380.8 510.8,383.5 515.0,385.0C519.2,386.5 523.3,387.3 527.5,387.5C531.7,387.7 535.4,387.1 540.0,386.2C544.6,385.4 550.0,384.0 555.0,382.5C560.0,381.0 565.0,379.2 570.0,377.5C575.0,375.8 580.4,374.2 585.0,372.5C589.6,370.8 593.8,369.0 597.5,367.5C601.2,366.0 604.6,364.6 607.5,363.8C610.4,362.9 612.9,361.5 615.0,362.5C617.1,363.5 618.3,367.3 620.0,370.0C621.7,372.7 622.9,376.7 625.0,378.8C627.1,380.8 630.0,381.3 632.5,382.5C635.0,383.7 635.4,384.4 640.0,386.0C644.6,387.6 653.3,389.8 660.0,392.0C666.7,394.2 674.0,397.0 680.0,399.0C686.0,401.0 686.0,402.2 696.0,404.0C706.0,405.8 732.7,360.7 740.0,410.0C747.3,459.3 780.0,651.7 740.0,700.0C700.0,748.3 571.2,701.7 500.0,700.0C428.8,698.3 344.0,694.7 312.8,690.0C281.6,685.3 312.1,676.5 312.8,672.0C313.5,667.5 315.0,665.8 317.2,662.8C319.4,659.8 322.6,656.2 326.0,654.0C329.4,651.8 333.2,651.1 337.6,649.6C342.0,648.1 347.3,646.7 352.2,645.2C357.1,643.7 362.9,642.2 366.8,640.8C370.7,639.3 372.2,637.5 375.6,636.5C379.0,635.5 382.9,635.5 387.3,635.0C391.7,634.5 397.5,634.2 401.9,633.5C406.3,632.8 410.2,631.8 413.6,630.6C417.0,629.4 420.1,628.1 422.3,626.2C424.5,624.3 425.7,621.7 426.7,619.0C427.7,616.3 427.0,612.7 428.2,610.2C429.4,607.8 431.1,605.5 434.0,604.3C436.9,603.1 442.2,603.1 445.7,602.9C449.2,602.7 451.8,603.6 455.0,603.0C458.2,602.4 462.0,600.9 464.8,599.0C467.6,597.1 470.2,595.1 472.0,591.8C473.8,588.4 473.3,582.6 475.8,578.9C478.3,575.2 482.6,571.8 486.9,569.6C491.2,567.5 497.1,566.9 501.7,566.0C506.3,565.1 512.1,565.9 514.6,564.0C517.1,562.1 516.4,558.9 516.4,554.9C516.4,550.9 514.6,544.9 514.6,540.0C514.6,535.1 515.2,529.4 516.4,525.4C517.6,521.4 519.5,518.2 522.0,516.0C524.5,513.8 527.8,513.9 531.2,512.4C534.6,510.9 539.2,508.8 542.3,507.0C545.4,505.2 547.1,503.9 549.6,501.4C552.1,498.9 554.5,495.4 557.0,492.0C559.5,488.6 561.9,484.7 564.4,481.0C566.9,477.3 569.2,472.2 571.8,470.0C574.4,467.8 577.8,469.6 580.0,467.5C582.2,465.4 583.3,460.8 585.0,457.5C586.7,454.2 589.6,450.4 590.0,447.5C590.4,444.6 589.2,442.1 587.5,440.0C585.8,437.9 582.9,437.1 580.0,435.0C577.1,432.9 572.9,430.0 570.0,427.5C567.1,425.0 565.0,422.5 562.5,420.0C560.0,417.5 557.1,415.0 555.0,412.5C552.9,410.0 551.7,407.5 550.0,405.0C548.3,402.5 547.5,399.4 545.0,397.5C542.5,395.6 539.2,394.6 535.0,393.8C530.8,392.9 524.6,393.1 520.0,392.5C515.4,391.9 511.2,391.5 507.5,390.0C503.8,388.5 500.8,385.6 497.5,383.8C494.2,381.9 489.8,380.4 487.5,378.8C485.2,377.1 483.3,374.8 483.8,373.8Z" fill="#ffd170"/>
<path d="M399.5,326.2C399.5,324.8 399.9,323.0 400.7,321.4C401.5,319.8 402.9,318.3 404.3,316.7C405.7,315.1 407.2,313.3 409.0,311.9C410.8,310.5 413.0,309.3 415.0,308.3C417.0,307.3 419.0,306.8 421.0,306.0C423.0,305.2 424.7,304.5 426.9,303.6C429.1,302.7 431.6,301.5 434.0,300.6C436.4,299.7 439.0,299.0 441.2,298.2C443.4,297.4 445.1,296.9 447.1,295.8C449.1,294.7 451.3,293.2 453.1,291.7C454.9,290.2 456.3,288.2 457.9,286.9C459.5,285.6 461.0,284.4 462.6,283.9C464.2,283.4 466.4,283.4 467.4,283.9C468.4,284.4 468.8,285.7 468.6,286.9C468.4,288.1 467.4,289.8 466.2,291.1C465.0,292.4 463.0,293.5 461.4,294.6C459.8,295.7 458.3,296.5 456.7,297.6C455.1,298.7 452.9,299.8 451.9,301.2C450.9,302.6 451.7,304.4 450.7,306.0C449.7,307.6 447.8,309.1 446.0,310.7C444.2,312.3 442.0,314.1 440.0,315.5C438.0,316.9 436.0,317.8 434.0,319.0C432.0,320.2 430.1,321.4 428.1,322.6C426.1,323.8 424.1,324.8 422.1,326.2C420.1,327.6 418.0,329.7 416.2,331.0C414.4,332.3 413.2,333.7 411.4,333.9C409.6,334.1 407.3,332.8 405.5,332.1C403.7,331.4 401.7,330.8 400.7,329.8C399.7,328.8 399.5,327.6 399.5,326.2Z" fill="#ffd170"/>
<path d="M471.7,299.0 L480.5,299.0 L480.5,310.0 L471.7,310.0Z" fill="#ffd170"/>
<path d="M567.9,442.0C567.9,442.5 567.7,443.2 567.5,443.6C567.2,444.1 566.8,444.5 566.4,444.7C566.0,444.8 565.4,444.8 565.0,444.7C564.6,444.5 564.2,444.1 563.9,443.6C563.7,443.2 563.5,442.5 563.5,442.0C563.5,441.5 563.7,440.8 563.9,440.4C564.2,439.9 564.6,439.5 565.0,439.3C565.4,439.2 566.0,439.2 566.4,439.3C566.8,439.5 567.2,439.9 567.5,440.4C567.7,440.8 567.9,441.5 567.9,442.0Z" fill="#ffff99"/>
<path d="M573.9,454.3C573.9,454.9 573.7,455.6 573.4,456.1C573.1,456.5 572.6,457.0 572.2,457.2C571.7,457.3 571.1,457.3 570.6,457.2C570.2,457.0 569.7,456.5 569.4,456.1C569.1,455.6 568.9,454.9 568.9,454.3C568.9,453.7 569.1,453.0 569.4,452.5C569.7,452.1 570.2,451.6 570.6,451.4C571.1,451.3 571.7,451.3 572.2,451.4C572.6,451.6 573.1,452.1 573.4,452.5C573.7,453.0 573.9,453.7 573.9,454.3Z" fill="#ffff99"/>
<path d="M452.0,469.5C452.0,470.0 451.8,470.6 451.5,471.0C451.2,471.4 450.7,471.7 450.3,471.9C449.8,472.0 449.2,472.0 448.7,471.9C448.3,471.7 447.8,471.4 447.5,471.0C447.2,470.6 447.0,470.0 447.0,469.5C447.0,469.0 447.2,468.4 447.5,468.0C447.8,467.6 448.3,467.3 448.7,467.1C449.2,467.0 449.8,467.0 450.3,467.1C450.7,467.3 451.2,467.6 451.5,468.0C451.8,468.4 452.0,469.0 452.0,469.5Z" fill="#ffff99"/>
<path d="M555.7,515.5C555.1,516.7 554.2,518.1 553.3,518.9C552.5,519.8 551.4,520.4 550.7,520.5C549.9,520.6 549.1,520.2 548.7,519.6C548.3,518.9 548.1,517.7 548.2,516.5C548.3,515.4 548.7,513.8 549.3,512.5C549.9,511.3 550.8,509.9 551.7,509.1C552.5,508.2 553.6,507.6 554.3,507.5C555.1,507.4 555.9,507.8 556.3,508.4C556.7,509.1 556.9,510.3 556.8,511.5C556.7,512.6 556.3,514.2 555.7,515.5Z" fill="#ffff99"/>
<path d="M456.2,362.5C457.1,360.4 459.8,360.8 461.2,362.5C462.7,364.2 463.1,369.6 465.0,372.5C466.9,375.4 469.6,377.5 472.5,380.0C475.4,382.5 479.2,385.0 482.5,387.5C485.8,390.0 488.8,392.9 492.5,395.0C496.2,397.1 501.2,398.5 505.0,400.0C508.8,401.5 511.7,402.9 515.0,403.8C518.3,404.6 522.5,404.2 525.0,405.0C527.5,405.8 527.9,408.3 530.0,408.8C532.1,409.2 535.0,407.1 537.5,407.5C540.0,407.9 542.5,409.8 545.0,411.2C547.5,412.7 550.0,414.4 552.5,416.2C555.0,418.1 557.5,420.2 560.0,422.5C562.5,424.8 565.8,427.7 567.5,430.0C569.2,432.3 570.4,435.0 570.0,436.2C569.6,437.5 567.1,438.5 565.0,437.5C562.9,436.5 560.0,432.1 557.5,430.0C555.0,427.9 551.7,425.2 550.0,425.0C548.3,424.8 549.2,427.5 547.5,428.8C545.8,430.0 542.9,432.3 540.0,432.5C537.1,432.7 532.9,431.2 530.0,430.0C527.1,428.8 525.0,426.2 522.5,425.0C520.0,423.8 517.9,423.3 515.0,422.5C512.1,421.7 508.3,420.2 505.0,420.0C501.7,419.8 497.7,421.5 495.0,421.2C492.3,421.0 490.2,420.2 488.8,418.8C487.3,417.3 487.7,414.4 486.2,412.5C484.8,410.6 482.7,409.2 480.0,407.5C477.3,405.8 472.9,404.6 470.0,402.5C467.1,400.4 464.4,397.9 462.5,395.0C460.6,392.1 459.8,388.3 458.8,385.0C457.7,381.7 456.7,378.8 456.2,375.0C455.8,371.2 455.4,364.6 456.2,362.5Z" fill="#a0e8e0"/>
<path d="M492.0,408.8C493.3,408.4 497.0,409.2 500.0,410.0C503.0,410.8 507.3,412.7 510.0,413.8C512.7,414.8 515.4,415.4 516.2,416.2C517.1,417.1 516.9,418.5 515.0,418.8C513.1,419.0 508.1,418.1 505.0,417.5C501.9,416.9 498.4,415.9 496.2,415.0C494.1,414.1 492.7,413.0 492.0,412.0C491.3,411.0 490.7,409.1 492.0,408.8Z" fill="#6ccff9"/>
<path d="M566.2,428.7C566.8,429.6 567.4,430.8 567.7,431.6C568.0,432.5 568.1,433.4 568.0,433.9C567.8,434.4 567.4,434.7 566.8,434.7C566.3,434.6 565.5,434.2 564.8,433.7C564.1,433.1 563.2,432.1 562.6,431.3C562.0,430.4 561.4,429.2 561.1,428.4C560.8,427.5 560.7,426.6 560.8,426.1C561.0,425.6 561.4,425.3 562.0,425.3C562.5,425.4 563.3,425.8 564.0,426.3C564.7,426.9 565.6,427.9 566.2,428.7Z" fill="#6ccff9"/>
<path d="M476.0,419.5C477.1,418.7 479.2,419.1 479.5,420.5C479.8,421.9 478.6,425.4 477.8,428.0C477.0,430.6 475.4,433.6 474.5,436.0C473.6,438.4 473.6,441.6 472.5,442.5C471.4,443.4 468.4,443.1 468.0,441.5C467.6,439.9 469.0,435.7 469.8,433.0C470.6,430.3 472.0,427.8 473.0,425.5C474.0,423.2 474.9,420.3 476.0,419.5Z" fill="#a0e8e0"/>
<path d="M465.8,450.6C465.9,450.8 466.0,451.1 465.8,451.5C465.7,451.8 465.3,452.4 464.9,452.8C464.6,453.2 464.0,453.7 463.5,454.0C463.0,454.3 462.5,454.5 462.1,454.6C461.7,454.7 461.4,454.6 461.2,454.4C461.1,454.2 461.0,453.9 461.2,453.5C461.3,453.2 461.7,452.6 462.1,452.2C462.4,451.8 463.0,451.3 463.5,451.0C464.0,450.7 464.5,450.5 464.9,450.4C465.3,450.3 465.6,450.4 465.8,450.6Z" fill="#a0e8e0"/>
<path d="M483.8,423.0C484.2,422.1 487.3,421.7 489.0,422.5C490.7,423.3 493.4,426.5 493.8,428.0C494.1,429.5 492.3,431.2 491.0,431.2C489.7,431.2 487.2,429.4 486.0,428.0C484.8,426.6 483.2,423.9 483.8,423.0Z" fill="#a0e8e0"/>
<path d="M458.7,314.0C459.0,313.2 460.9,312.2 461.5,313.0C462.1,313.8 462.5,316.9 462.5,319.0C462.5,321.1 462.0,324.6 461.5,325.4C461.0,326.2 459.8,325.2 459.5,324.0C459.2,322.8 459.9,319.7 459.8,318.0C459.7,316.3 458.4,314.8 458.7,314.0Z" fill="#a0e8e0"/>
<path d="M686.9,330.6C686.9,331.1 686.3,331.7 685.6,332.0C684.9,332.3 683.6,332.5 682.5,332.5C681.4,332.5 679.9,332.3 678.8,332.0C677.7,331.7 676.6,331.1 676.0,330.6C675.4,330.1 675.0,329.5 675.1,329.0C675.1,328.5 675.7,327.9 676.4,327.6C677.1,327.3 678.4,327.1 679.5,327.1C680.6,327.1 682.1,327.3 683.2,327.6C684.3,327.9 685.4,328.5 686.0,329.0C686.6,329.5 687.0,330.1 686.9,330.6Z" fill="#a0e8e0"/>
<path d="M229.0,90.0C270.8,87.5 395.7,85.0 480.0,85.0C564.3,85.0 692.5,53.7 735.0,90.0C777.5,126.3 740.3,267.7 735.0,303.0C729.7,338.3 712.2,302.3 703.0,302.0C693.8,301.7 687.2,301.0 680.0,301.0C672.8,301.0 666.7,301.3 660.0,302.0C653.3,302.7 645.0,304.7 640.0,305.0C635.0,305.3 634.2,304.4 630.0,303.8C625.8,303.1 620.0,301.7 615.0,301.2C610.0,300.8 605.0,301.7 600.0,301.2C595.0,300.8 590.0,299.6 585.0,298.8C580.0,297.9 575.0,296.9 570.0,296.2C565.0,295.6 559.6,295.0 555.0,295.0C550.4,295.0 545.8,295.6 542.5,296.2C539.2,296.9 537.1,297.9 535.0,298.8C532.9,299.6 532.9,301.5 530.0,301.2C527.1,301.0 520.4,299.4 517.5,297.5C514.6,295.6 513.5,292.9 512.5,290.0C511.5,287.1 511.2,282.8 511.2,280.0C511.3,277.2 511.9,274.6 513.0,273.0C514.1,271.4 516.0,270.6 518.0,270.5C520.0,270.4 522.2,271.3 525.0,272.5C527.8,273.7 531.7,276.2 535.0,277.5C538.3,278.8 541.7,279.8 545.0,280.0C548.3,280.2 551.7,278.8 555.0,278.8C558.3,278.8 561.2,279.6 565.0,280.0C568.8,280.4 573.3,280.9 577.5,281.2C581.7,281.6 585.8,281.8 590.0,282.0C594.2,282.2 598.8,282.6 602.5,282.5C606.2,282.4 609.2,281.7 612.5,281.2C615.8,280.8 619.8,280.8 622.5,280.0C625.2,279.2 627.9,277.7 628.8,276.2C629.6,274.8 629.0,272.7 627.5,271.2C626.0,269.8 622.9,268.8 620.0,267.5C617.1,266.2 613.3,265.0 610.0,263.8C606.7,262.5 603.3,261.5 600.0,260.0C596.7,258.5 593.3,256.7 590.0,255.0C586.7,253.3 583.3,251.7 580.0,250.0C576.7,248.3 573.3,246.7 570.0,245.0C566.7,243.3 563.3,241.5 560.0,240.0C556.7,238.5 553.3,237.3 550.0,236.2C546.7,235.2 543.3,234.8 540.0,233.8C536.7,232.7 532.9,231.5 530.0,230.0C527.1,228.5 524.6,227.1 522.5,225.0C520.4,222.9 519.2,219.4 517.5,217.5C515.8,215.6 514.2,213.8 512.5,213.8C510.8,213.8 509.2,215.6 507.5,217.5C505.8,219.4 504.6,222.5 502.5,225.0C500.4,227.5 497.5,230.0 495.0,232.5C492.5,235.0 490.3,237.8 487.5,240.0C484.7,242.2 480.8,244.7 478.0,246.0C475.2,247.3 473.3,247.3 470.5,247.6C467.7,247.9 463.9,247.9 461.0,247.6C458.1,247.3 454.9,247.0 453.3,245.7C451.7,244.4 453.0,241.3 451.4,240.0C449.8,238.7 446.6,238.6 443.8,238.0C441.0,237.4 437.4,237.1 434.3,236.2C431.2,235.3 428.2,233.5 425.0,232.5C421.8,231.5 418.3,230.7 415.0,230.0C411.7,229.3 407.5,228.1 405.0,228.5C402.5,228.9 401.0,230.6 400.0,232.5C399.0,234.4 399.6,237.8 398.8,240.0C397.9,242.2 396.4,245.1 395.0,246.0C393.6,246.9 390.9,246.7 390.5,245.5C390.1,244.3 392.4,241.3 392.5,239.0C392.6,236.7 393.1,232.8 391.0,231.5C388.9,230.2 382.7,232.1 380.0,231.2C377.3,230.4 377.5,228.3 375.0,226.2C372.5,224.2 367.5,220.2 365.0,218.8C362.5,217.3 362.1,218.1 360.0,217.5C357.9,216.9 354.6,215.0 352.5,215.0C350.4,215.0 349.6,216.2 347.5,217.5C345.4,218.8 342.5,222.1 340.0,222.5C337.5,222.9 334.2,221.2 332.5,220.0C330.8,218.8 331.5,216.9 330.0,215.0C328.5,213.1 325.8,210.6 323.8,208.8C321.7,206.9 319.0,205.6 317.5,203.8C316.0,201.9 316.2,199.2 315.0,197.5C313.8,195.8 311.2,193.8 310.0,193.8C308.8,193.8 308.8,195.6 307.5,197.5C306.2,199.4 304.8,203.5 302.5,205.0C300.2,206.5 296.0,206.9 293.8,206.2C291.5,205.6 289.2,202.9 288.8,201.2C288.3,199.6 289.4,197.3 291.2,196.2C293.1,195.2 298.1,196.0 300.0,195.0C301.9,194.0 302.5,191.5 302.5,190.0C302.5,188.5 301.0,188.3 300.0,186.2C299.0,184.2 298.3,179.2 296.2,177.5C294.2,175.8 290.4,176.9 287.5,176.2C284.6,175.6 280.6,175.2 278.8,173.8C276.9,172.3 276.0,169.4 276.2,167.5C276.5,165.6 281.0,164.6 280.0,162.5C279.0,160.4 272.1,157.5 270.0,155.0C267.9,152.5 268.8,150.0 267.5,147.5C266.2,145.0 264.6,141.7 262.5,140.0C260.4,138.3 257.5,138.5 255.0,137.5C252.5,136.5 249.8,135.4 247.5,133.8C245.2,132.1 242.5,129.8 241.2,127.5C240.0,125.2 241.0,122.2 240.0,120.0C239.0,117.8 236.7,115.5 235.0,114.0C233.3,112.5 231.2,112.3 230.0,111.0C228.8,109.7 228.2,107.8 228.0,106.0C227.8,104.2 228.8,102.7 229.0,100.0C229.2,97.3 187.2,92.5 229.0,90.0Z" fill="#6ccff9"/>
<path d="M397.6,240.8C398.0,241.4 398.1,242.3 397.8,243.1C397.6,243.8 397.0,244.8 396.3,245.4C395.6,246.1 394.5,246.7 393.6,247.0C392.7,247.2 391.6,247.3 390.8,247.1C390.0,246.9 389.3,246.4 389.0,245.8C388.6,245.2 388.5,244.3 388.8,243.5C389.0,242.8 389.6,241.8 390.3,241.2C391.0,240.5 392.1,239.9 393.0,239.6C393.9,239.4 395.0,239.3 395.8,239.5C396.6,239.7 397.3,240.2 397.6,240.8Z" fill="#6ccff9"/>
<path d="M403.2,250.5C403.2,251.1 403.0,251.8 402.6,252.3C402.2,252.7 401.6,253.2 401.0,253.4C400.4,253.5 399.6,253.5 399.0,253.4C398.4,253.2 397.8,252.7 397.4,252.3C397.0,251.8 396.8,251.1 396.8,250.5C396.8,249.9 397.0,249.2 397.4,248.7C397.8,248.3 398.4,247.8 399.0,247.6C399.6,247.5 400.4,247.5 401.0,247.6C401.6,247.8 402.2,248.3 402.6,248.7C403.0,249.2 403.2,249.9 403.2,250.5Z" fill="#6ccff9"/>
<path d="M480.0,252.7C480.0,253.2 479.8,253.7 479.6,254.1C479.4,254.5 479.0,254.8 478.6,255.0C478.2,255.1 477.8,255.1 477.4,255.0C477.0,254.8 476.6,254.5 476.4,254.1C476.2,253.7 476.0,253.2 476.0,252.7C476.0,252.2 476.2,251.7 476.4,251.3C476.6,250.9 477.0,250.6 477.4,250.4C477.8,250.3 478.2,250.3 478.6,250.4C479.0,250.6 479.4,250.9 479.6,251.3C479.8,251.7 480.0,252.2 480.0,252.7Z" fill="#6ccff9"/>
<path d="M516.2,253.8C516.2,254.4 515.9,255.2 515.5,255.7C515.0,256.2 514.3,256.6 513.6,256.8C512.9,257.0 511.9,257.0 511.2,256.8C510.5,256.6 509.8,256.2 509.3,255.7C508.9,255.2 508.6,254.4 508.6,253.8C508.6,253.2 508.9,252.4 509.3,251.9C509.8,251.4 510.5,251.0 511.2,250.8C511.9,250.6 512.9,250.6 513.6,250.8C514.3,251.0 515.0,251.4 515.5,251.9C515.9,252.4 516.2,253.2 516.2,253.8Z" fill="#6ccff9"/>
<path d="M448.3,265.8C448.3,266.3 448.0,266.9 447.7,267.3C447.3,267.7 446.6,268.0 446.0,268.2C445.4,268.3 444.6,268.3 444.0,268.2C443.4,268.0 442.7,267.7 442.3,267.3C442.0,266.9 441.7,266.3 441.7,265.8C441.7,265.3 442.0,264.7 442.3,264.3C442.7,263.9 443.4,263.6 444.0,263.4C444.6,263.3 445.4,263.3 446.0,263.4C446.6,263.6 447.3,263.9 447.7,264.3C448.0,264.7 448.3,265.3 448.3,265.8Z" fill="#6ccff9"/>
<path d="M450.0,240.0C452.5,238.8 465.0,239.0 470.0,240.0C475.0,241.0 478.3,244.5 480.0,246.0C481.7,247.5 481.7,248.6 480.0,249.0C478.3,249.4 474.2,248.8 470.0,248.5C465.8,248.2 458.3,248.4 455.0,247.0C451.7,245.6 447.5,241.2 450.0,240.0Z" fill="#6ccff9"/>
<path d="M488.6,105.7C489.0,104.6 492.6,104.5 494.3,105.0C496.0,105.5 497.2,107.0 498.6,108.6C500.0,110.1 501.5,112.2 502.9,114.3C504.3,116.4 505.8,119.3 507.1,121.4C508.4,123.5 508.8,125.5 510.7,127.1C512.6,128.6 515.9,129.6 518.6,130.7C521.3,131.8 524.0,132.8 527.1,133.6C530.2,134.4 534.2,134.6 537.1,135.7C540.0,136.8 541.9,138.3 544.3,140.0C546.7,141.7 549.5,143.5 551.4,145.7C553.3,147.8 554.6,150.5 555.7,152.9C556.8,155.3 556.5,157.6 557.9,160.0C559.3,162.4 562.0,164.9 564.3,167.1C566.5,169.2 569.0,171.0 571.4,172.9C573.8,174.8 577.0,176.5 578.6,178.6C580.2,180.7 580.7,183.3 580.7,185.7C580.7,188.1 579.7,191.3 578.6,192.9C577.5,194.5 576.4,195.2 574.3,195.0C572.1,194.8 568.6,192.5 565.7,191.4C562.8,190.3 560.2,189.6 557.1,188.6C554.0,187.6 550.4,186.6 547.1,185.7C543.8,184.8 540.0,183.8 537.1,182.9C534.2,182.0 532.1,181.4 530.0,180.0C527.9,178.6 525.7,176.5 524.3,174.3C522.9,172.2 522.6,169.2 521.4,167.1C520.2,164.9 518.5,163.5 517.1,161.4C515.7,159.3 514.1,156.7 512.9,154.3C511.7,151.9 510.7,149.5 510.0,147.1C509.3,144.7 509.6,141.9 508.6,140.0C507.7,138.1 506.0,137.1 504.3,135.7C502.6,134.3 499.9,133.3 498.6,131.4C497.3,129.5 497.0,126.7 496.4,124.3C495.8,121.9 495.7,119.2 495.0,117.1C494.3,114.9 493.2,113.3 492.1,111.4C491.0,109.5 488.2,106.8 488.6,105.7Z" fill="#a0e8e0"/>
<path d="M640.0,115.0C641.2,113.3 643.8,113.2 645.0,114.0C646.2,114.8 647.5,117.7 647.5,120.0C647.5,122.3 646.2,126.3 645.0,128.0C643.8,129.7 641.2,130.7 640.0,130.0C638.8,129.3 638.0,126.5 638.0,124.0C638.0,121.5 638.8,116.7 640.0,115.0Z" fill="#a0e8e0"/>
<path d="M640.0,136.2C640.0,136.7 639.7,137.3 639.3,137.7C638.9,138.1 638.1,138.5 637.4,138.6C636.7,138.8 635.8,138.8 635.1,138.6C634.4,138.5 633.6,138.1 633.2,137.7C632.8,137.3 632.5,136.7 632.5,136.2C632.5,135.8 632.8,135.2 633.2,134.8C633.6,134.4 634.4,134.0 635.1,133.9C635.8,133.7 636.7,133.7 637.4,133.9C638.1,134.0 638.9,134.4 639.3,134.8C639.7,135.2 640.0,135.8 640.0,136.2Z" fill="#a0e8e0"/>
<path d="M638.8,144.4C638.8,144.7 638.6,145.2 638.4,145.5C638.2,145.8 637.8,146.0 637.5,146.2C637.1,146.3 636.6,146.3 636.3,146.2C635.9,146.0 635.6,145.8 635.4,145.5C635.1,145.2 635.0,144.7 635.0,144.4C635.0,144.0 635.1,143.6 635.4,143.3C635.6,143.0 635.9,142.7 636.3,142.6C636.6,142.5 637.1,142.5 637.5,142.6C637.8,142.7 638.2,143.0 638.4,143.3C638.6,143.6 638.8,144.0 638.8,144.4Z" fill="#a0e8e0"/>
<path d="M650.0,178.8C651.2,177.9 656.7,178.1 660.0,177.5C663.3,176.9 667.1,176.0 670.0,175.0C672.9,174.0 675.1,171.5 677.5,171.2C679.9,171.0 683.7,172.5 684.5,173.8C685.3,175.0 684.5,177.3 682.5,178.8C680.5,180.2 675.8,181.7 672.5,182.5C669.2,183.3 665.8,183.8 662.5,183.8C659.2,183.8 654.6,183.3 652.5,182.5C650.4,181.7 648.8,179.6 650.0,178.8Z" fill="#a0e8e0"/>
<path d="M712.0,223.0C710.5,218.8 705.5,223.2 703.0,224.0C700.5,224.8 698.3,226.0 697.0,228.0C695.7,230.0 694.8,233.3 695.0,236.0C695.2,238.7 696.5,242.0 698.0,244.0C699.5,246.0 701.7,247.2 704.0,248.0C706.3,248.8 710.7,253.2 712.0,249.0C713.3,244.8 713.5,227.2 712.0,223.0Z" fill="#a0e8e0"/>
<path d="M712.0,225.8C710.5,223.2 705.3,225.6 703.0,226.5C700.7,227.4 698.8,229.1 698.0,231.0C697.2,232.9 697.7,236.2 698.5,238.0C699.3,239.8 700.8,241.0 703.0,241.7C705.2,242.4 710.5,244.7 712.0,242.0C713.5,239.3 713.5,228.4 712.0,225.8Z" fill="#d9ffbf"/>
<path d="M469.5,227.2C469.5,227.6 469.2,228.2 468.8,228.5C468.4,228.9 467.6,229.2 466.9,229.4C466.2,229.5 465.3,229.5 464.6,229.4C463.9,229.2 463.1,228.9 462.7,228.5C462.3,228.2 462.0,227.6 462.0,227.2C462.0,226.7 462.3,226.1 462.7,225.8C463.1,225.4 463.9,225.1 464.6,224.9C465.3,224.8 466.2,224.8 466.9,224.9C467.6,225.1 468.4,225.4 468.8,225.8C469.2,226.1 469.5,226.7 469.5,227.2Z" fill="#a0e8e0"/>
<path d="M463.8,235.2C463.8,235.9 463.4,236.8 462.9,237.4C462.3,238.0 461.4,238.6 460.5,238.8C459.6,239.0 458.5,239.0 457.6,238.8C456.7,238.6 455.8,238.0 455.2,237.4C454.7,236.8 454.3,235.9 454.3,235.2C454.3,234.5 454.7,233.6 455.2,233.0C455.8,232.4 456.7,231.8 457.6,231.6C458.5,231.4 459.6,231.4 460.5,231.6C461.4,231.8 462.3,232.4 462.9,233.0C463.4,233.6 463.8,234.5 463.8,235.2Z" fill="#a0e8e0"/>
<path d="M568.8,220.0C568.8,220.5 568.5,221.1 568.2,221.5C567.8,221.9 567.2,222.2 566.6,222.4C566.0,222.5 565.2,222.5 564.7,222.4C564.1,222.2 563.5,221.9 563.1,221.5C562.7,221.1 562.5,220.5 562.5,220.0C562.5,219.5 562.7,218.9 563.1,218.5C563.5,218.1 564.1,217.8 564.7,217.6C565.2,217.5 566.0,217.5 566.6,217.6C567.2,217.8 567.8,218.1 568.2,218.5C568.5,218.9 568.8,219.5 568.8,220.0Z" fill="#a0e8e0"/>
<path d="M598.2,261.0C598.2,261.5 598.1,262.1 598.0,262.5C597.8,262.9 597.6,263.2 597.4,263.4C597.1,263.5 596.9,263.5 596.6,263.4C596.4,263.2 596.2,262.9 596.0,262.5C595.9,262.1 595.8,261.5 595.8,261.0C595.8,260.5 595.9,259.9 596.0,259.5C596.2,259.1 596.4,258.8 596.6,258.6C596.9,258.5 597.1,258.5 597.4,258.6C597.6,258.8 597.8,259.1 598.0,259.5C598.1,259.9 598.2,260.5 598.2,261.0Z" fill="#d9ffbf"/>
<path d="M588.6,202.0C588.6,202.4 588.5,202.8 588.3,203.1C588.1,203.3 587.8,203.6 587.5,203.7C587.2,203.8 586.8,203.8 586.5,203.7C586.2,203.6 585.9,203.3 585.7,203.1C585.5,202.8 585.4,202.4 585.4,202.0C585.4,201.6 585.5,201.2 585.7,200.9C585.9,200.7 586.2,200.4 586.5,200.3C586.8,200.2 587.2,200.2 587.5,200.3C587.8,200.4 588.1,200.7 588.3,200.9C588.5,201.2 588.6,201.6 588.6,202.0Z" fill="#a0e8e0"/>
<path d="M561.0,238.0C561.0,238.4 560.8,238.9 560.5,239.2C560.2,239.5 559.7,239.8 559.3,239.9C558.8,240.0 558.2,240.0 557.7,239.9C557.3,239.8 556.8,239.5 556.5,239.2C556.2,238.9 556.0,238.4 556.0,238.0C556.0,237.6 556.2,237.1 556.5,236.8C556.8,236.5 557.3,236.2 557.7,236.1C558.2,236.0 558.8,236.0 559.3,236.1C559.7,236.2 560.2,236.5 560.5,236.8C560.8,237.1 561.0,237.6 561.0,238.0Z" fill="#1f39ff"/>
<path d="M578.7,239.5C578.5,240.1 577.9,240.6 577.1,240.9C576.4,241.2 575.3,241.3 574.4,241.2C573.5,241.0 572.3,240.6 571.5,240.1C570.7,239.6 569.9,238.8 569.5,238.2C569.2,237.5 569.1,236.6 569.3,236.0C569.5,235.4 570.1,234.9 570.9,234.6C571.6,234.3 572.7,234.2 573.6,234.3C574.5,234.5 575.7,234.9 576.5,235.4C577.3,235.9 578.1,236.7 578.5,237.3C578.8,238.0 578.9,238.9 578.7,239.5Z" fill="#1f39ff"/>
<path d="M449.5,257.5C449.5,258.3 449.1,259.2 448.5,259.9C448.0,260.5 447.0,261.1 446.0,261.3C445.1,261.5 443.9,261.5 443.0,261.3C442.0,261.1 441.0,260.5 440.5,259.9C439.9,259.2 439.5,258.3 439.5,257.5C439.5,256.7 439.9,255.8 440.5,255.1C441.0,254.5 442.0,253.9 443.0,253.7C443.9,253.5 445.1,253.5 446.0,253.7C447.0,253.9 448.0,254.5 448.5,255.1C449.1,255.8 449.5,256.7 449.5,257.5Z" fill="#d9ffbf"/>
<path d="M240.0,90.0C258.3,86.7 312.6,85.0 350.0,85.0C387.4,85.0 445.2,87.7 464.3,90.0C483.4,92.3 463.4,96.3 464.3,99.0C465.2,101.7 468.3,103.9 470.0,106.3C471.7,108.7 473.1,111.0 474.3,113.4C475.5,115.8 475.9,118.4 477.1,120.6C478.3,122.8 479.2,124.9 481.4,126.3C483.5,127.7 487.6,127.7 490.0,129.1C492.4,130.5 493.8,132.8 495.7,134.9C497.6,137.1 499.7,139.7 501.4,142.0C503.1,144.3 504.3,147.2 505.7,149.0C507.1,150.8 508.0,149.0 510.0,152.5C512.0,156.0 515.2,165.2 517.5,170.0C519.8,174.8 521.7,177.9 523.8,181.2C525.8,184.6 528.1,187.7 530.0,190.0C531.9,192.3 534.0,193.2 535.0,195.0C536.0,196.8 536.3,199.3 536.0,201.0C535.7,202.7 532.7,203.0 533.0,205.0C533.3,207.0 536.3,210.5 538.0,213.0C539.7,215.5 541.3,217.8 543.0,220.0C544.7,222.2 546.8,224.1 548.0,226.0C549.2,227.9 551.7,231.0 550.5,231.4C549.3,231.8 544.2,230.0 541.0,228.6C537.8,227.2 534.3,225.1 531.4,222.9C528.5,220.7 526.0,217.6 523.8,215.2C521.6,212.8 520.9,209.5 518.0,208.6C515.1,207.7 509.9,208.8 506.7,209.5C503.5,210.2 499.6,211.4 499.0,212.5C498.4,213.6 502.6,214.6 502.9,216.0C503.2,217.4 502.0,219.8 501.0,221.0C500.0,222.2 498.9,222.6 497.0,223.5C495.1,224.4 492.0,226.5 489.5,226.7C487.0,226.9 483.8,225.8 481.9,224.8C480.0,223.9 479.6,222.4 478.0,221.0C476.4,219.6 474.9,216.9 472.4,216.2C469.9,215.5 466.1,216.9 462.9,217.0C459.7,217.1 456.5,216.7 453.3,217.0C450.1,217.3 446.4,218.0 443.8,219.0C441.2,220.0 439.6,221.0 438.0,222.9C436.4,224.8 435.9,229.7 434.3,230.5C432.7,231.3 431.2,228.9 428.6,227.6C426.1,226.3 422.2,224.7 419.0,222.9C415.8,221.1 412.7,219.1 409.5,217.0C406.3,214.9 403.2,212.1 400.0,210.5C396.8,208.9 393.3,208.6 390.0,207.5C386.7,206.4 382.9,204.8 380.0,203.8C377.1,202.7 375.0,200.8 372.5,201.2C370.0,201.7 367.1,205.6 365.0,206.2C362.9,206.9 361.7,206.5 360.0,205.0C358.3,203.5 356.9,199.6 355.0,197.5C353.1,195.4 349.2,193.8 348.8,192.5C348.3,191.2 350.2,190.4 352.5,190.0C354.8,189.6 359.2,190.2 362.5,190.0C365.8,189.8 369.6,189.6 372.5,188.8C375.4,187.9 379.6,186.2 380.0,185.0C380.4,183.8 377.5,182.5 375.0,181.2C372.5,180.0 368.3,178.3 365.0,177.5C361.7,176.7 358.3,176.5 355.0,176.2C351.7,176.0 347.9,177.3 345.0,176.2C342.1,175.2 340.0,171.9 337.5,170.0C335.0,168.1 332.3,166.7 330.0,165.0C327.7,163.3 325.4,160.4 323.8,160.0C322.1,159.6 320.5,160.4 320.0,162.5C319.5,164.6 320.6,169.2 320.5,172.5C320.4,175.8 320.2,179.8 319.5,182.5C318.8,185.2 317.4,188.5 316.2,188.8C315.1,189.0 314.4,186.0 312.5,183.8C310.6,181.5 307.3,177.7 305.0,175.0C302.7,172.3 300.6,170.2 298.8,167.5C296.9,164.8 295.4,161.5 293.8,158.8C292.1,156.0 291.0,153.8 288.8,151.2C286.5,148.8 283.1,146.5 280.0,143.8C276.9,141.0 272.7,137.7 270.0,135.0C267.3,132.3 266.2,129.6 263.8,127.5C261.2,125.4 257.7,123.5 255.0,122.5C252.3,121.5 249.4,122.5 247.5,121.2C245.6,120.0 245.0,117.7 243.8,115.0C242.5,112.3 240.6,109.2 240.0,105.0C239.4,100.8 221.7,93.3 240.0,90.0Z" fill="#1f39ff"/>
<path d="M551.0,90.0C564.2,87.9 616.8,87.5 630.0,90.0C643.2,92.5 630.0,101.2 630.0,105.0C630.0,108.8 630.8,110.0 630.0,112.5C629.2,115.0 626.5,117.5 625.0,120.0C623.5,122.5 622.5,126.9 621.2,127.5C620.0,128.1 619.4,125.0 617.5,123.8C615.6,122.5 612.3,120.0 610.0,120.0C607.7,120.0 604.6,121.9 603.8,123.8C602.9,125.6 603.5,129.0 605.0,131.2C606.5,133.5 610.2,135.2 612.5,137.5C614.8,139.8 617.3,142.1 618.8,145.0C620.2,147.9 620.8,151.7 621.2,155.0C621.7,158.3 620.6,161.7 621.2,165.0C621.9,168.3 623.1,172.1 625.0,175.0C626.9,177.9 630.0,180.2 632.5,182.5C635.0,184.8 637.1,186.7 640.0,188.8C642.9,190.8 647.1,193.5 650.0,195.0C652.9,196.5 654.6,197.1 657.5,197.5C660.4,197.9 664.2,198.1 667.5,197.5C670.8,196.9 674.2,195.6 677.5,193.8C680.8,191.9 684.6,188.8 687.5,186.2C690.4,183.8 692.5,180.6 695.0,178.8C697.5,176.9 698.3,176.0 702.5,175.0C706.7,174.0 717.1,168.0 720.0,172.5C722.9,177.0 721.7,197.0 720.0,202.0C718.3,207.0 713.3,202.0 710.0,202.5C706.7,203.0 703.3,204.2 700.0,205.0C696.7,205.8 693.8,207.3 690.0,207.5C686.2,207.7 681.7,206.5 677.5,206.2C673.3,206.0 669.2,206.5 665.0,206.2C660.8,206.0 656.2,205.4 652.5,205.0C648.8,204.6 643.3,202.5 642.5,203.8C641.7,205.0 645.8,209.8 647.5,212.5C649.2,215.2 650.4,217.5 652.5,220.0C654.6,222.5 657.5,225.0 660.0,227.5C662.5,230.0 664.6,232.5 667.5,235.0C670.4,237.5 674.6,240.0 677.5,242.5C680.4,245.0 682.5,247.5 685.0,250.0C687.5,252.5 690.0,255.2 692.5,257.5C695.0,259.8 696.8,262.3 700.0,263.8C703.2,265.2 710.0,264.5 712.0,266.0C714.0,267.5 714.0,271.9 712.0,273.0C710.0,274.1 703.4,272.9 700.0,272.5C696.6,272.1 694.5,271.4 691.7,270.8C688.9,270.2 685.8,269.3 683.3,269.2C680.8,269.1 678.4,269.4 676.7,270.0C675.0,270.6 673.3,271.8 673.3,272.5C673.3,273.2 675.0,273.5 676.7,274.2C678.4,274.9 681.1,275.9 683.3,276.7C685.5,277.5 687.8,278.5 690.0,279.2C692.2,279.9 695.0,280.2 696.7,280.8C698.4,281.4 700.3,281.8 700.0,282.5C699.7,283.2 697.2,284.3 695.0,285.0C692.8,285.7 689.2,286.6 686.7,286.7C684.2,286.8 682.2,286.4 680.0,285.8C677.8,285.2 675.5,283.6 673.3,283.3C671.1,283.0 668.9,283.9 666.7,284.2C664.5,284.5 662.5,284.9 660.0,285.0C657.5,285.1 654.5,285.3 651.7,285.0C648.9,284.7 645.8,283.9 643.3,283.3C640.8,282.8 638.1,282.5 636.7,281.7C635.3,280.9 634.7,279.3 635.0,278.3C635.3,277.3 637.3,276.9 638.3,275.8C639.3,274.7 640.9,273.5 640.8,271.7C640.7,269.9 638.8,267.2 637.5,265.0C636.2,262.8 634.5,260.5 633.3,258.3C632.0,256.1 631.7,253.1 630.0,251.7C628.3,250.3 625.8,250.6 623.3,250.0C620.8,249.4 617.5,249.4 615.0,248.3C612.5,247.2 610.2,244.3 608.3,243.3C606.3,242.3 605.2,242.2 603.3,242.5C601.4,242.8 598.9,244.7 596.7,245.0C594.5,245.3 591.7,244.9 590.0,244.2C588.3,243.5 586.7,242.3 586.7,240.8C586.7,239.3 588.8,236.4 590.0,235.0C591.2,233.6 592.5,232.5 594.2,232.5C595.9,232.5 598.1,234.3 600.0,235.0C601.9,235.7 604.7,237.2 605.8,236.7C606.9,236.1 607.0,234.5 606.7,231.7C606.4,228.9 605.1,224.0 604.0,220.0C602.9,216.0 601.3,211.7 600.0,207.5C598.7,203.3 597.0,199.2 596.0,195.0C595.0,190.8 594.6,186.7 594.0,182.5C593.4,178.3 593.0,173.8 592.5,170.0C592.0,166.2 591.0,163.3 591.0,160.0C591.0,156.7 592.7,153.3 592.5,150.0C592.3,146.7 591.7,142.9 590.0,140.0C588.3,137.1 585.0,135.0 582.5,132.5C580.0,130.0 577.9,127.5 575.0,125.0C572.1,122.5 568.3,120.0 565.0,117.5C561.7,115.0 557.3,112.5 555.0,110.0C552.7,107.5 551.7,105.8 551.0,102.5C550.3,99.2 537.8,92.1 551.0,90.0Z" fill="#1f39ff"/>
<path d="M721.0,106.0C720.0,104.6 716.6,108.6 715.0,109.8C713.4,111.0 712.8,112.2 711.5,113.3C710.2,114.4 708.5,115.5 707.0,116.4C705.5,117.3 703.9,118.0 702.6,118.7C701.3,119.5 699.4,120.1 699.0,120.9C698.6,121.7 699.8,122.8 700.4,123.5C701.0,124.2 701.6,125.4 702.6,125.3C703.6,125.2 705.0,123.7 706.2,123.0C707.4,122.3 708.5,121.8 709.7,121.3C710.9,120.8 712.1,120.4 713.3,120.0C714.5,119.6 715.5,119.3 716.8,119.0C718.1,118.7 720.3,120.2 721.0,118.0C721.7,115.8 722.0,107.4 721.0,106.0Z" fill="#1f39ff"/>
<path d="M703.2,125.0C703.7,125.5 703.6,128.0 704.4,128.4C705.2,128.8 706.8,127.3 708.0,127.5C709.2,127.7 710.6,128.8 711.5,129.8C712.4,130.8 713.0,132.3 713.1,133.7C713.2,135.1 712.9,136.6 712.4,138.2C711.9,139.8 711.1,141.7 710.2,143.5C709.3,145.3 708.1,147.0 707.0,148.8C705.9,150.6 704.8,152.7 703.5,154.2C702.2,155.7 700.2,157.4 699.0,157.7C697.8,158.0 696.9,157.0 696.4,156.0C695.9,155.0 696.5,153.0 696.0,151.5C695.5,150.0 694.7,148.0 693.7,147.0C692.7,146.0 691.5,145.5 690.2,145.3C688.9,145.1 687.3,145.8 685.8,145.7C684.3,145.5 682.2,145.1 681.3,144.4C680.4,143.7 680.1,142.3 680.2,141.3C680.4,140.3 681.1,138.9 682.2,138.2C683.3,137.5 685.1,137.3 686.6,137.3C688.1,137.3 689.5,138.3 691.0,138.2C692.5,138.0 694.2,137.3 695.5,136.4C696.8,135.5 698.0,134.1 699.0,132.9C700.0,131.8 701.4,130.7 701.8,129.5C702.2,128.3 701.3,126.2 701.5,125.5C701.7,124.8 702.7,124.5 703.2,125.0Z" fill="#1f39ff"/>
<path d="M326.2,194.4C326.2,195.0 326.0,195.7 325.5,196.2C325.1,196.7 324.4,197.2 323.7,197.3C323.0,197.5 322.0,197.5 321.3,197.3C320.6,197.2 319.9,196.7 319.5,196.2C319.0,195.7 318.8,195.0 318.8,194.4C318.8,193.8 319.0,193.0 319.5,192.5C319.9,192.0 320.6,191.6 321.3,191.4C322.0,191.2 323.0,191.2 323.7,191.4C324.4,191.6 325.1,192.0 325.5,192.5C326.0,193.0 326.2,193.8 326.2,194.4Z" fill="#1f39ff"/>
<path d="M342.0,208.8C341.7,209.3 341.1,209.8 340.5,210.0C339.8,210.2 339.0,210.2 338.3,210.0C337.6,209.8 336.8,209.4 336.3,208.9C335.7,208.4 335.3,207.6 335.2,206.9C335.1,206.3 335.2,205.5 335.5,205.0C335.8,204.5 336.4,204.0 337.0,203.8C337.7,203.6 338.5,203.5 339.2,203.7C339.9,203.9 340.7,204.4 341.2,204.9C341.8,205.4 342.2,206.2 342.3,206.8C342.4,207.4 342.3,208.2 342.0,208.8Z" fill="#1f39ff"/>
<path d="M487.5,233.9C487.8,234.3 487.8,234.9 487.6,235.4C487.5,236.0 487.0,236.6 486.6,237.0C486.1,237.5 485.3,237.9 484.7,238.1C484.0,238.3 483.3,238.4 482.7,238.3C482.2,238.1 481.7,237.8 481.5,237.4C481.2,237.0 481.2,236.4 481.4,235.9C481.5,235.3 482.0,234.7 482.4,234.3C482.9,233.8 483.7,233.4 484.3,233.2C485.0,233.0 485.7,232.9 486.3,233.0C486.8,233.2 487.3,233.5 487.5,233.9Z" fill="#1f39ff"/>
<path d="M490.0,115.2C490.0,115.7 489.8,116.3 489.4,116.7C489.0,117.1 488.4,117.5 487.8,117.7C487.2,117.8 486.4,117.8 485.8,117.7C485.2,117.5 484.6,117.1 484.2,116.7C483.8,116.3 483.6,115.7 483.6,115.2C483.6,114.7 483.8,114.1 484.2,113.7C484.6,113.3 485.2,112.9 485.8,112.7C486.4,112.6 487.2,112.6 487.8,112.7C488.4,112.9 489.0,113.3 489.4,113.7C489.8,114.1 490.0,114.7 490.0,115.2Z" fill="#1f39ff"/>
<path d="M515.0,287.5C514.8,286.4 516.5,282.5 517.5,281.2C518.5,280.0 520.0,279.8 521.2,280.0C522.5,280.2 522.7,281.9 525.0,282.5C527.3,283.1 533.5,283.1 535.0,283.8C536.5,284.4 535.4,285.8 533.8,286.2C532.1,286.7 527.5,286.0 525.0,286.2C522.5,286.5 520.4,287.8 518.8,288.0C517.1,288.2 515.2,288.6 515.0,287.5Z" fill="#1f39ff"/>
<path d="M613.8,292.5C613.8,293.1 613.3,293.8 612.6,294.3C611.8,294.7 610.6,295.2 609.4,295.4C608.3,295.5 606.7,295.5 605.6,295.4C604.4,295.2 603.2,294.7 602.4,294.3C601.7,293.8 601.2,293.1 601.2,292.5C601.2,291.9 601.7,291.2 602.4,290.7C603.2,290.3 604.4,289.8 605.6,289.6C606.7,289.5 608.3,289.5 609.4,289.6C610.6,289.8 611.8,290.3 612.6,290.7C613.3,291.2 613.8,291.9 613.8,292.5Z" fill="#1f39ff"/>
<path d="M618.8,285.5 L630.0,285.0 L630.0,286.5 L618.8,287.0Z" fill="#1f39ff"/>
<path d="M339.5,182.2C339.5,182.5 339.3,182.8 338.9,183.0C338.6,183.2 338.0,183.4 337.4,183.4C336.9,183.5 336.1,183.5 335.6,183.4C335.0,183.4 334.4,183.2 334.1,183.0C333.7,182.8 333.5,182.5 333.5,182.2C333.5,182.0 333.7,181.7 334.1,181.5C334.4,181.3 335.0,181.1 335.6,181.1C336.1,181.0 336.9,181.0 337.4,181.1C338.0,181.1 338.6,181.3 338.9,181.5C339.3,181.7 339.5,182.0 339.5,182.2Z" fill="#1f39ff"/>
<path d="M256.3,115.0C256.3,115.7 256.0,116.6 255.6,117.2C255.1,117.8 254.4,118.4 253.7,118.6C253.0,118.8 252.0,118.8 251.3,118.6C250.6,118.4 249.9,117.8 249.4,117.2C249.0,116.6 248.7,115.7 248.7,115.0C248.7,114.3 249.0,113.4 249.4,112.8C249.9,112.2 250.6,111.6 251.3,111.4C252.0,111.2 253.0,111.2 253.7,111.4C254.4,111.6 255.1,112.2 255.6,112.8C256.0,113.4 256.3,114.3 256.3,115.0Z" fill="#6ccff9"/>
<path d="M283.8,128.5C283.8,129.0 283.6,129.6 283.3,130.0C283.0,130.4 282.5,130.7 282.0,130.9C281.6,131.0 280.9,131.0 280.5,130.9C280.0,130.7 279.5,130.4 279.2,130.0C278.9,129.6 278.8,129.0 278.8,128.5C278.8,128.0 278.9,127.4 279.2,127.0C279.5,126.6 280.0,126.3 280.5,126.1C280.9,126.0 281.6,126.0 282.0,126.1C282.5,126.3 283.0,126.6 283.3,127.0C283.6,127.4 283.8,128.0 283.8,128.5Z" fill="#6ccff9"/>
<path d="M290.6,144.6C290.2,144.9 289.4,145.0 288.6,144.8C287.8,144.5 286.8,143.9 285.9,143.1C285.1,142.4 284.1,141.3 283.5,140.3C282.9,139.3 282.5,138.2 282.4,137.3C282.3,136.5 282.5,135.8 282.9,135.4C283.3,135.1 284.1,135.0 284.9,135.2C285.7,135.5 286.7,136.1 287.6,136.9C288.4,137.6 289.4,138.7 290.0,139.7C290.6,140.7 291.0,141.8 291.1,142.7C291.2,143.5 291.0,144.2 290.6,144.6Z" fill="#6ccff9"/>
<path d="M347.5,128.8C348.7,127.8 352.1,126.6 355.0,127.0C357.9,127.4 361.7,129.5 365.0,131.2C368.3,133.0 371.7,135.4 375.0,137.5C378.3,139.6 382.1,141.2 385.0,143.8C387.9,146.2 390.4,149.4 392.5,152.5C394.6,155.6 396.6,160.1 397.5,162.5C398.4,164.9 398.8,166.8 398.0,167.0C397.2,167.2 394.2,165.8 392.5,163.8C390.8,161.8 389.6,157.7 387.5,155.0C385.4,152.3 382.9,149.4 380.0,147.5C377.1,145.6 373.3,144.8 370.0,143.8C366.7,142.7 362.9,142.3 360.0,141.2C357.1,140.2 354.5,139.0 352.5,137.5C350.5,136.0 348.8,134.0 348.0,132.5C347.2,131.0 346.3,129.7 347.5,128.8Z" fill="#6ccff9"/>
<path d="M375.5,195.0C376.1,193.0 381.5,186.6 383.8,187.0C386.0,187.4 389.4,195.5 388.8,197.5C388.1,199.5 382.2,199.2 380.0,198.8C377.8,198.3 374.9,197.0 375.5,195.0Z" fill="#6ccff9"/>
<path d="M375.0,90.0C379.6,87.9 400.0,87.1 405.0,90.0C410.0,92.9 406.2,104.4 405.0,107.5C403.8,110.6 400.4,109.2 397.5,108.8C394.6,108.3 390.8,106.0 387.5,105.0C384.2,104.0 379.6,105.0 377.5,102.5C375.4,100.0 370.4,92.1 375.0,90.0Z" fill="#6ccff9"/>
<path d="M414.3,92.0C417.3,90.2 427.8,89.8 431.4,92.0C435.0,94.2 434.3,101.3 435.7,104.9C437.1,108.5 438.6,110.8 440.0,113.4C441.4,116.0 442.6,118.2 444.3,120.6C446.0,123.0 448.3,125.6 450.0,127.7C451.7,129.8 453.7,132.0 454.3,133.4C454.9,134.8 454.2,136.1 453.6,136.3C453.0,136.6 451.8,135.4 450.7,134.9C449.6,134.4 448.3,134.1 447.1,133.4C445.9,132.7 444.8,131.1 443.6,130.6C442.4,130.1 440.1,129.9 440.0,130.6C439.9,131.3 441.7,133.2 442.9,134.9C444.1,136.6 445.7,138.7 447.1,140.6C448.5,142.5 450.0,144.4 451.4,146.3C452.8,148.2 454.9,150.4 455.7,152.0C456.5,153.6 456.9,154.8 456.4,155.6C455.9,156.4 454.1,157.1 452.9,157.0C451.7,156.9 450.3,155.7 449.3,154.9C448.3,154.1 447.8,153.1 447.1,152.0C446.4,150.9 445.7,148.8 445.0,148.4C444.3,148.1 444.0,149.8 442.9,149.9C441.8,150.0 440.3,149.7 438.6,149.1C436.9,148.5 434.8,147.2 432.9,146.3C431.0,145.4 429.0,144.4 427.1,143.4C425.2,142.4 422.9,141.6 421.4,140.6C419.9,139.6 418.7,138.9 417.9,137.7C417.1,136.5 416.6,134.8 416.4,133.4C416.1,132.0 415.9,130.3 416.4,129.1C416.9,127.9 418.0,126.4 419.3,126.3C420.6,126.2 422.8,128.4 424.3,128.4C425.9,128.4 428.0,127.2 428.6,126.3C429.2,125.3 428.5,123.8 427.9,122.7C427.3,121.6 426.2,121.0 425.0,119.9C423.8,118.8 422.0,117.4 420.7,116.3C419.4,115.2 418.2,114.4 417.1,113.4C416.0,112.5 415.0,111.7 414.3,110.6C413.6,109.5 413.0,108.3 412.9,107.0C412.8,105.7 413.4,105.2 413.6,102.7C413.8,100.2 411.3,93.8 414.3,92.0Z" fill="#6ccff9"/>
<path d="M663.3,263.0C663.3,263.7 663.0,264.6 662.6,265.2C662.2,265.8 661.4,266.3 660.7,266.5C660.1,266.7 659.1,266.7 658.5,266.5C657.8,266.3 657.0,265.8 656.6,265.2C656.2,264.6 655.9,263.7 655.9,263.0C655.9,262.3 656.2,261.4 656.6,260.8C657.0,260.2 657.8,259.7 658.5,259.5C659.1,259.3 660.1,259.3 660.7,259.5C661.4,259.7 662.2,260.2 662.6,260.8C663.0,261.4 663.3,262.3 663.3,263.0Z" fill="#6ccff9"/>
<path d="M410.0,170.2C410.0,170.5 409.8,170.8 409.5,171.0C409.2,171.2 408.7,171.4 408.3,171.4C407.8,171.5 407.2,171.5 406.7,171.4C406.3,171.4 405.8,171.2 405.5,171.0C405.2,170.8 405.0,170.5 405.0,170.2C405.0,170.0 405.2,169.7 405.5,169.5C405.8,169.3 406.3,169.1 406.7,169.1C407.2,169.0 407.8,169.0 408.3,169.1C408.7,169.1 409.2,169.3 409.5,169.5C409.8,169.7 410.0,170.0 410.0,170.2Z" fill="#6ccff9"/>
<path d="M241.2,92.0C244.4,90.0 253.5,91.5 260.0,92.0C266.5,92.5 275.4,92.4 280.0,95.0C284.6,97.6 284.6,104.4 287.5,107.5C290.4,110.6 293.8,111.7 297.5,113.8C301.2,115.8 306.5,117.7 310.0,120.0C313.5,122.3 317.0,124.2 318.8,127.5C320.5,130.8 321.1,137.3 320.5,140.0C319.9,142.7 316.3,142.1 315.0,143.8C313.7,145.4 313.1,147.3 312.5,150.0C311.9,152.7 312.1,157.5 311.2,160.0C310.4,162.5 309.2,165.0 307.5,165.0C305.8,165.0 303.1,162.3 301.2,160.0C299.4,157.7 297.3,154.0 296.2,151.2C295.2,148.5 296.0,145.8 295.0,143.8C294.0,141.7 291.2,140.8 290.0,138.8C288.8,136.7 287.6,133.5 288.0,131.2C288.4,129.0 292.0,127.1 292.5,125.0C293.0,122.9 292.3,120.4 291.2,118.8C290.2,117.1 288.1,116.5 286.2,115.0C284.4,113.5 281.9,111.5 280.0,110.0C278.1,108.5 277.1,106.5 275.0,106.2C272.9,106.0 270.0,108.3 267.5,108.8C265.0,109.2 262.1,109.4 260.0,108.8C257.9,108.1 257.5,105.4 255.0,105.0C252.5,104.6 247.3,106.5 245.0,106.2C242.7,106.0 241.9,106.1 241.2,103.8C240.6,101.4 238.1,94.0 241.2,92.0Z" fill="#0000bc"/>
<path d="M447.1,107.0C447.5,106.3 449.7,105.7 451.4,106.3C453.1,106.9 455.2,108.8 457.1,110.6C459.0,112.4 461.2,115.0 462.9,117.0C464.6,119.0 465.4,120.9 467.1,122.7C468.8,124.5 471.2,125.9 472.9,127.7C474.6,129.5 475.4,131.5 477.1,133.4C478.8,135.3 480.8,137.2 482.9,139.1C485.0,141.0 487.6,143.2 490.0,144.9C492.4,146.6 495.2,147.7 497.1,149.1C499.0,150.5 500.3,151.7 501.4,153.4C502.5,155.1 502.9,157.0 503.5,159.1C504.1,161.2 505.2,165.0 505.0,166.0C504.8,167.0 502.8,165.9 502.0,165.0C501.2,164.1 501.1,162.3 500.0,160.6C498.9,158.9 497.4,156.7 495.7,154.9C494.0,153.1 492.1,151.6 490.0,149.9C487.9,148.2 485.0,146.6 482.9,144.9C480.8,143.2 479.0,141.8 477.1,139.9C475.2,138.0 473.1,135.2 471.4,133.4C469.7,131.6 468.5,130.7 467.1,129.1C465.7,127.5 464.3,126.0 462.9,124.1C461.5,122.2 460.0,119.5 458.6,117.7C457.2,115.9 455.9,114.6 454.3,113.4C452.8,112.2 450.5,111.7 449.3,110.6C448.1,109.5 446.8,107.7 447.1,107.0Z" fill="#0000bc"/>
<path d="M445.0,171.2C446.2,169.8 451.2,169.0 455.0,168.8C458.8,168.5 464.0,169.2 467.5,170.0C471.0,170.8 473.3,173.5 476.2,173.8C479.2,174.0 481.5,171.9 485.0,171.2C488.5,170.6 494.2,170.6 497.5,170.0C500.8,169.4 502.5,167.1 505.0,167.5C507.5,167.9 510.4,170.0 512.5,172.5C514.6,175.0 516.9,180.2 517.5,182.5C518.1,184.8 518.3,186.0 516.2,186.2C514.2,186.5 507.3,183.3 505.0,183.8C502.7,184.2 501.7,187.3 502.5,188.8C503.3,190.2 507.7,191.2 510.0,192.5C512.3,193.8 515.4,194.8 516.2,196.2C517.1,197.7 516.9,200.0 515.0,201.2C513.1,202.5 508.3,203.8 505.0,203.8C501.7,203.8 497.9,202.5 495.0,201.2C492.1,200.0 490.4,197.3 487.5,196.2C484.6,195.2 480.4,194.8 477.5,195.0C474.6,195.2 471.9,196.7 470.0,197.5C468.1,198.3 467.1,201.2 466.2,200.0C465.4,198.8 466.0,192.3 465.0,190.0C464.0,187.7 462.1,187.5 460.0,186.2C457.9,185.0 454.6,184.0 452.5,182.5C450.4,181.0 448.8,179.4 447.5,177.5C446.2,175.6 443.8,172.7 445.0,171.2Z" fill="#0000bc"/>
<path d="M522.5,206.2C523.8,205.4 527.5,206.0 530.0,207.5C532.5,209.0 535.0,212.3 537.5,215.0C540.0,217.7 543.1,221.5 545.0,223.8C546.9,226.0 549.0,227.7 548.8,228.8C548.5,229.8 546.0,230.6 543.8,230.0C541.5,229.4 537.7,227.1 535.0,225.0C532.3,222.9 529.6,219.6 527.5,217.5C525.4,215.4 523.3,214.4 522.5,212.5C521.7,210.6 521.2,207.1 522.5,206.2Z" fill="#0000bc"/>
<path d="M368.0,105.5C368.6,104.9 371.3,105.1 373.8,106.2C376.2,107.4 379.4,110.6 382.5,112.5C385.6,114.4 390.6,116.0 392.5,117.5C394.4,119.0 394.8,120.9 393.8,121.2C392.7,121.6 389.0,120.5 386.2,119.5C383.5,118.5 380.2,116.6 377.5,115.0C374.8,113.4 371.6,111.6 370.0,110.0C368.4,108.4 367.4,106.1 368.0,105.5Z" fill="#0000bc"/>
<path d="M416.0,151.8C415.7,152.5 415.0,153.1 414.3,153.3C413.5,153.6 412.5,153.7 411.6,153.5C410.7,153.3 409.7,152.9 409.0,152.3C408.3,151.7 407.6,150.9 407.4,150.1C407.1,149.4 407.1,148.5 407.4,147.9C407.7,147.2 408.4,146.6 409.1,146.4C409.9,146.1 410.9,146.0 411.8,146.2C412.7,146.4 413.7,146.8 414.4,147.4C415.1,148.0 415.8,148.8 416.0,149.6C416.3,150.3 416.3,151.2 416.0,151.8Z" fill="#0000bc"/>
<path d="M431.3,157.9C431.2,158.3 430.8,158.7 430.3,158.9C429.8,159.2 429.1,159.3 428.4,159.2C427.7,159.2 426.9,158.9 426.3,158.6C425.7,158.4 425.1,157.9 424.8,157.4C424.4,157.0 424.3,156.5 424.4,156.1C424.5,155.7 424.9,155.3 425.4,155.1C425.9,154.8 426.6,154.7 427.3,154.8C428.0,154.8 428.8,155.1 429.4,155.4C430.0,155.6 430.6,156.1 430.9,156.6C431.3,157.0 431.4,157.5 431.3,157.9Z" fill="#0000bc"/>
<path d="M393.6,119.8C393.6,120.3 393.5,120.8 393.3,121.1C393.0,121.5 392.7,121.8 392.4,121.9C392.0,122.0 391.6,122.0 391.2,121.9C390.9,121.8 390.6,121.5 390.3,121.1C390.1,120.8 390.0,120.3 390.0,119.8C390.0,119.4 390.1,118.9 390.3,118.6C390.6,118.2 390.9,117.9 391.2,117.8C391.6,117.7 392.0,117.7 392.4,117.8C392.7,117.9 393.0,118.2 393.3,118.6C393.5,118.9 393.6,119.4 393.6,119.8Z" fill="#0000bc"/>
<path d="M341.1,144.3C341.0,144.7 340.6,145.2 340.1,145.4C339.6,145.6 338.8,145.7 338.1,145.6C337.4,145.6 336.5,145.3 335.9,145.0C335.2,144.7 334.6,144.2 334.2,143.8C333.9,143.4 333.8,142.8 333.9,142.4C334.0,142.0 334.4,141.6 334.9,141.4C335.4,141.2 336.2,141.1 336.9,141.1C337.6,141.2 338.5,141.4 339.1,141.7C339.8,142.0 340.4,142.5 340.8,143.0C341.1,143.4 341.2,143.9 341.1,144.3Z" fill="#0000bc"/>
<path d="M611.0,188.8C611.6,187.5 615.6,185.6 617.5,186.2C619.4,186.9 620.4,190.6 622.5,192.5C624.6,194.4 628.1,195.4 630.0,197.5C631.9,199.6 632.9,202.5 633.8,205.0C634.6,207.5 634.0,210.4 635.0,212.5C636.0,214.6 639.3,216.0 640.0,217.5C640.7,219.0 640.3,220.7 639.2,221.7C638.1,222.7 635.4,223.6 633.3,223.3C631.2,223.0 628.8,221.4 626.7,220.0C624.7,218.6 622.1,216.7 621.0,215.0C619.9,213.3 620.4,212.5 620.0,210.0C619.6,207.5 619.8,202.7 618.8,200.0C617.7,197.3 615.0,195.6 613.8,193.8C612.5,191.9 610.4,190.0 611.0,188.8Z" fill="#0000bc"/>
<path d="M651.3,230.0C651.6,228.9 653.0,228.5 654.2,229.2C655.4,229.9 656.9,232.7 658.3,234.2C659.7,235.7 661.7,236.9 662.5,238.3C663.3,239.7 663.4,241.5 663.0,242.5C662.6,243.5 661.2,244.5 660.0,244.2C658.8,243.9 657.0,242.2 655.8,240.8C654.5,239.4 653.2,237.6 652.5,235.8C651.8,234.0 651.0,231.1 651.3,230.0Z" fill="#0000bc"/>
<path d="M672.3,246.5C673.0,247.3 673.5,248.4 673.6,249.3C673.8,250.2 673.6,251.3 673.2,252.0C672.8,252.7 672.0,253.4 671.2,253.7C670.4,253.9 669.3,253.9 668.5,253.6C667.6,253.3 666.6,252.6 666.0,251.9C665.3,251.1 664.8,250.0 664.7,249.1C664.5,248.2 664.7,247.1 665.1,246.4C665.5,245.7 666.3,245.0 667.1,244.7C667.9,244.5 669.0,244.5 669.8,244.8C670.7,245.1 671.7,245.8 672.3,246.5Z" fill="#0000bc"/>
<path d="M580.0,95.0C582.5,93.2 592.5,93.2 595.0,95.0C597.5,96.8 596.2,103.7 595.0,106.0C593.8,108.3 590.5,108.8 588.0,108.8C585.5,108.8 581.3,108.3 580.0,106.0C578.7,103.7 577.5,96.8 580.0,95.0Z" fill="#0000bc"/>
<path d="M697.5,201.2C697.5,201.7 697.3,202.3 697.0,202.7C696.7,203.1 696.2,203.5 695.8,203.6C695.3,203.8 694.7,203.8 694.2,203.6C693.8,203.5 693.3,203.1 693.0,202.7C692.7,202.3 692.5,201.7 692.5,201.2C692.5,200.8 692.7,200.2 693.0,199.8C693.3,199.4 693.8,199.0 694.2,198.9C694.7,198.7 695.3,198.7 695.8,198.9C696.2,199.0 696.7,199.4 697.0,199.8C697.3,200.2 697.5,200.8 697.5,201.2Z" fill="#0000bc"/>
<path d="M450.0,212.5C450.0,212.8 449.6,213.1 449.0,213.4C448.5,213.6 447.5,213.8 446.5,213.9C445.6,214.0 444.4,214.0 443.5,213.9C442.5,213.8 441.5,213.6 441.0,213.4C440.4,213.1 440.0,212.8 440.0,212.5C440.0,212.2 440.4,211.9 441.0,211.6C441.5,211.4 442.5,211.2 443.5,211.1C444.4,211.0 445.6,211.0 446.5,211.1C447.5,211.2 448.5,211.4 449.0,211.6C449.6,211.9 450.0,212.2 450.0,212.5Z" fill="#0000bc"/>
<path d="M467.5,184.5C468.3,184.2 471.2,185.7 473.8,186.2C476.2,186.8 479.4,187.7 482.5,188.0C485.6,188.3 489.8,188.1 492.5,188.0C495.2,187.9 497.5,187.0 498.8,187.5C500.0,188.0 500.4,190.2 500.0,191.2C499.6,192.3 498.3,193.5 496.2,193.8C494.2,194.0 490.2,193.0 487.5,193.0C484.8,193.0 482.5,194.0 480.0,193.8C477.5,193.5 474.4,192.2 472.5,191.2C470.6,190.3 469.6,189.1 468.8,188.0C467.9,186.9 466.7,184.8 467.5,184.5Z" fill="#ffffff"/>
<path d="M523.8,210.0C524.2,209.4 525.8,207.9 527.5,208.8C529.2,209.6 531.7,212.7 533.8,215.0C535.8,217.3 539.2,220.8 540.0,222.5C540.8,224.2 539.8,225.0 538.8,225.0C537.7,225.0 535.6,224.0 533.8,222.5C531.9,221.0 529.0,217.9 527.5,216.2C526.0,214.6 525.1,213.5 524.5,212.5C523.9,211.5 523.2,210.6 523.8,210.0Z" fill="#ffffff"/>
<path d="M501.2,161.2C501.2,160.2 502.2,159.9 503.0,160.8C503.8,161.6 505.4,164.9 505.8,166.2C506.1,167.6 505.5,168.6 505.0,168.8C504.5,168.9 503.6,168.2 503.0,167.0C502.4,165.8 501.2,162.3 501.2,161.2Z" fill="#ffffff"/>
<path d="M269.5,96.0 L274.2,96.0 L274.2,102.3 L272.3,101.6 L270.5,100.3Z" fill="#ffffff"/>
<path d="M279.9,104.8C279.9,105.1 279.8,105.4 279.5,105.6C279.3,105.8 278.9,106.0 278.6,106.0C278.2,106.1 277.8,106.1 277.4,106.0C277.1,106.0 276.7,105.8 276.5,105.6C276.2,105.4 276.1,105.1 276.1,104.8C276.1,104.5 276.2,104.2 276.5,104.0C276.7,103.8 277.1,103.6 277.4,103.6C277.8,103.5 278.2,103.5 278.6,103.6C278.9,103.6 279.3,103.8 279.5,104.0C279.8,104.2 279.9,104.5 279.9,104.8Z" fill="#ffffff"/>
</g>
<g fill="none" stroke="#000" stroke-width="1.2" stroke-linejoin="round" stroke-linecap="round">
<path d="M293.4,369.7C293.8,370.2 295.8,372.9 296.5,373.6C297.2,374.3 298.7,375.4 299.5,376.0C300.3,376.6 302.6,377.6 303.0,378.4C303.4,379.2 302.6,382.3 303.0,383.2C303.4,384.1 305.7,385.5 306.7,385.9C307.7,386.3 310.2,386.6 311.5,386.6C312.8,386.6 316.3,386.5 317.6,386.2C318.9,385.9 321.4,384.4 322.4,383.8C323.4,383.2 325.1,382.0 326.0,381.4C326.9,380.8 329.3,379.3 330.2,379.0C331.1,378.7 332.4,378.9 333.3,379.0C334.2,379.1 336.6,379.5 338.0,379.6C339.4,379.7 343.6,379.5 345.3,379.6C347.0,379.7 351.2,379.9 352.5,380.2C353.8,380.5 355.1,381.9 356.2,382.0C357.3,382.1 360.8,380.8 362.2,380.8C363.6,380.8 366.8,381.7 368.2,382.0C369.6,382.3 372.9,383.3 374.3,383.2C375.7,383.1 378.9,382.2 380.3,381.0C381.7,379.8 385.0,374.5 386.4,373.0C387.8,371.5 390.7,369.2 392.0,368.2C393.3,367.2 396.5,365.4 397.8,364.4C399.1,363.4 402.2,360.8 403.5,359.7C404.8,358.6 408.0,356.0 409.2,354.9C410.4,353.8 412.9,351.3 414.0,350.2C415.1,349.1 417.6,346.5 418.8,345.4C420.0,344.3 423.2,341.7 424.5,340.7C425.8,339.7 428.9,337.8 430.2,336.8C431.5,335.8 434.7,333.1 435.9,332.0C437.1,330.9 439.4,328.2 440.6,327.3C441.8,326.4 445.1,325.2 446.3,324.5C447.5,323.8 450.1,322.4 451.0,321.6C451.9,320.8 453.4,318.7 454.0,317.8C454.6,316.9 455.4,314.7 455.8,314.0C456.2,313.3 457.3,311.8 457.7,311.7C458.1,311.6 459.2,312.3 459.3,313.0C459.4,313.7 458.8,316.6 458.7,317.8C458.6,319.0 458.6,322.5 458.7,323.5C458.8,324.5 459.0,325.8 459.7,326.4C460.4,327.0 463.7,327.5 464.4,328.3C465.1,329.1 465.7,331.6 465.9,333.0C466.1,334.4 466.3,338.8 466.3,340.6C466.3,342.4 466.2,346.7 465.9,348.3C465.6,349.9 464.1,353.0 463.4,354.0C462.7,355.0 460.5,356.4 459.6,356.8C458.7,357.2 456.6,358.0 455.8,357.8C455.0,357.6 453.6,355.3 453.0,354.9C452.4,354.5 451.7,353.9 451.0,354.0C450.3,354.1 447.6,355.2 447.3,355.9C447.0,356.6 448.4,358.8 448.2,359.7C448.0,360.6 445.6,362.4 445.4,363.5C445.2,364.6 446.4,367.9 446.3,369.2C446.2,370.5 444.3,374.0 444.4,374.9C444.5,375.8 446.4,376.5 447.3,376.8C448.2,377.1 451.3,377.0 452.0,377.7C452.7,378.4 453.5,381.7 453.0,382.5C452.5,383.3 448.6,384.1 447.3,384.4C446.0,384.7 442.9,385.0 441.6,385.4C440.3,385.8 436.3,387.1 435.9,388.2C435.5,389.3 437.8,393.3 437.8,394.9C437.8,396.5 436.6,400.1 435.9,401.5C435.2,402.9 432.9,405.9 432.0,407.2C431.1,408.5 429.1,411.7 428.3,413.0C427.5,414.3 425.8,416.6 425.4,418.6C425.0,420.6 425.1,428.2 424.8,430.0C424.5,431.8 422.8,433.4 422.5,433.9"/>
<path d="M422.5,433.9 L331,423 L296,380.5 L296,374"/>
<path d="M414.0,350.2C414.8,351.1 417.1,354.2 418.8,355.9C420.6,357.6 422.3,359.5 424.5,360.6C426.7,361.7 429.5,362.5 432.0,362.5C434.5,362.5 437.6,361.4 439.7,360.6C441.8,359.8 443.9,359.5 444.4,357.8C444.9,356.1 443.0,352.7 442.5,350.2C442.0,347.7 442.4,344.4 441.6,342.6C440.8,340.9 439.4,340.5 437.8,339.7C436.2,338.9 433.6,337.9 432.0,337.8C430.4,337.7 428.9,338.6 428.3,338.8"/>
<path d="M440.6,327.3C441.1,328.2 442.4,331.6 443.5,333.0C444.6,334.4 446.4,334.6 447.3,335.9C448.2,337.2 449.2,338.9 449.2,340.6C449.2,342.3 447.5,344.4 447.3,346.3C447.1,348.2 448.1,351.1 448.2,352.0"/>
<path d="M452.3,327.6 L459.3,326.8 L464.7,327.6 L465.9,329.7 M452.3,327.6 L453.1,331.4 L457.2,332.2 L458,334.7 L458,338.8 M458.9,327 L458.9,352.8 M453.5,341 L453,352.5 M462,340 L462.5,351 L465,352.5"/>
<path d="M452.3,352.8 L454.8,357.8 L457.2,359 L460.1,356.9 L460.9,354.5 L458,353.6 L455.6,354 Z"/>
<path d="M444.9,324.8C445.2,325.5 446.1,327.6 446.5,329.0C446.9,330.4 447.4,331.9 447.3,333.0C447.2,334.1 445.7,334.8 445.7,335.5C445.7,336.2 446.6,337.1 447.3,337.1C448.0,337.1 449.5,336.2 449.8,335.5C450.1,334.8 448.6,333.1 449.0,333.0C449.4,332.9 451.5,334.0 452.3,334.7C453.1,335.4 453.6,336.7 453.9,337.1"/>
<path d="M438.3,328.9C437.8,329.9 435.0,333.5 435.0,334.7C435.0,335.9 437.1,336.3 438.3,336.3C439.5,336.3 441.2,334.8 442.4,334.7C443.6,334.6 445.1,335.4 445.7,335.5"/>
</g>
<path d="M382.1,381.4C382.0,380.7 382.7,378.0 383.6,376.7C384.5,375.4 386.3,374.4 387.4,373.3C388.5,372.2 389.1,371.1 390.2,370.0C391.3,368.9 392.7,367.6 394.0,366.7C395.3,365.8 396.6,365.1 397.9,364.3C399.2,363.5 400.6,362.5 401.7,361.9C402.8,361.3 403.9,360.3 404.5,360.5C405.1,360.7 405.5,361.9 405.5,362.9C405.5,363.9 405.0,365.5 404.5,366.7C404.0,367.9 403.4,369.0 402.6,370.0C401.8,371.0 400.8,372.3 399.8,372.9C398.9,373.5 397.9,373.4 396.9,373.8C395.9,374.2 394.9,374.7 394.0,375.2C393.1,375.7 392.1,376.4 391.2,376.7C390.2,377.0 389.1,376.8 388.3,377.1C387.5,377.4 387.0,378.0 386.4,378.6C385.8,379.2 385.2,380.5 384.5,381.0C383.8,381.5 382.2,382.1 382.1,381.4Z" fill="#000"/>
<g fill="none" stroke="#000" stroke-linecap="round">
<path d="M405,359.5 L408,356.5 L411.5,353.2" stroke-width="2.2"/>
<circle cx="414.6" cy="349.6" r="2.1" stroke-width="1.7"/>
<path d="M417.5,347 L420,345.5 M421,342.5 L423.5,340 M427.5,338 L429,337" stroke-width="2"/>
<ellipse cx="375" cy="379.6" rx="5.2" ry="2.3" stroke-width="1.1"/>
<path d="M371,379.5 L379,380" stroke-width="1"/>
<path d="M357.3,363.5 L358.2,367.5" stroke-width="1.8"/>
<path d="M453.3,339 L466.2,339" stroke-width="2.6" stroke-linecap="butt"/>
<path d="M465.9,329.7 L466.4,339 L466.3,349.5 L464.7,352.8 L461.4,353.6" stroke-width="1.8"/>
<path d="M431,337 L435,333 L438.3,328.9 L441.6,326.4 L444.9,324.8" stroke-width="2.2"/>
<path d="M451.5,320.6 L453.9,317.3 L455.6,313.6" stroke-width="1.7"/>
</g>
<g fill="#000">
<circle cx="341" cy="344" r="1"/>
<circle cx="323.8" cy="351" r="1"/>
<circle cx="329.9" cy="356.7" r="1"/>
<circle cx="340.5" cy="352" r="0.9"/>
<circle cx="348.6" cy="354" r="1.1"/>
<circle cx="347.7" cy="362.7" r="0.9"/>
<circle cx="357.4" cy="365.7" r="1.3"/>
<circle cx="321" cy="367.5" r="1.3"/>
<circle cx="300" cy="365.7" r="1"/>
<circle cx="303" cy="362" r="0.7"/>
<circle cx="331.4" cy="373.8" r="1.5"/>
<circle cx="349" cy="373.6" r="1"/>
<circle cx="355" cy="374.8" r="1.2"/>
<circle cx="310.3" cy="377.8" r="1.2"/>
<circle cx="305.5" cy="377.8" r="0.8"/>
<circle cx="418.8" cy="317.8" r="1.1"/>
<circle cx="422.5" cy="304.5" r="0.8"/>
<circle cx="428" cy="303.5" r="0.8"/>
<circle cx="389" cy="341" r="1"/>
<circle cx="423.5" cy="340.7" r="1"/>
<circle cx="429" cy="340.7" r="1"/>
<circle cx="296.5" cy="375" r="1.6"/>
<circle cx="358.5" cy="369" r="1"/>
<circle cx="345" cy="376" r="0.9"/>
<circle cx="338" cy="374.5" r="0.7"/>
<circle cx="334" cy="372.5" r="0.6"/>
</g>
<rect x="10.5" y="77.5" width="743" height="624" fill="none" stroke="#000" stroke-width="1"/>
<rect x="771.5" y="120.40" width="27.0" height="45.21" fill="#a80000"/>
<rect x="771.5" y="165.31" width="27.0" height="45.21" fill="#e60000"/>
<rect x="771.5" y="210.22" width="27.0" height="45.21" fill="#ff2a0a"/>
<rect x="771.5" y="255.12" width="27.0" height="45.21" fill="#ff6600"/>
<rect x="771.5" y="300.03" width="27.0" height="45.21" fill="#ff9933"/>
<rect x="771.5" y="344.94" width="27.0" height="45.21" fill="#ffd170"/>
<rect x="771.5" y="389.85" width="27.0" height="45.21" fill="#ffff99"/>
<rect x="771.5" y="434.76" width="27.0" height="45.21" fill="#d9ffbf"/>
<rect x="771.5" y="479.67" width="27.0" height="45.21" fill="#a0e8e0"/>
<rect x="771.5" y="524.57" width="27.0" height="45.21" fill="#6ccff9"/>
<rect x="771.5" y="569.48" width="27.0" height="45.21" fill="#1f39ff"/>
<rect x="771.5" y="614.39" width="27.0" height="45.21" fill="#0000bc"/>
<rect x="771.5" y="120.4" width="27.0" height="538.9" fill="none" stroke="#000" stroke-width="1"/>
<line x1="798.5" y1="120.30" x2="803.4" y2="120.30" stroke="#000" stroke-width="1.1"/>
<text x="808.1" y="125.30" font-size="13.9" textLength="16.6" lengthAdjust="spacingAndGlyphs">50</text>
<line x1="798.5" y1="165.21" x2="803.4" y2="165.21" stroke="#000" stroke-width="1.1"/>
<text x="808.1" y="170.21" font-size="13.9" textLength="16.6" lengthAdjust="spacingAndGlyphs">45</text>
<line x1="798.5" y1="210.12" x2="803.4" y2="210.12" stroke="#000" stroke-width="1.1"/>
<text x="808.1" y="215.12" font-size="13.9" textLength="16.6" lengthAdjust="spacingAndGlyphs">40</text>
<line x1="798.5" y1="255.03" x2="803.4" y2="255.03" stroke="#000" stroke-width="1.1"/>
<text x="808.1" y="260.02" font-size="13.9" textLength="16.6" lengthAdjust="spacingAndGlyphs">35</text>
<line x1="798.5" y1="299.93" x2="803.4" y2="299.93" stroke="#000" stroke-width="1.1"/>
<text x="808.1" y="304.93" font-size="13.9" textLength="16.6" lengthAdjust="spacingAndGlyphs">30</text>
<line x1="798.5" y1="344.84" x2="803.4" y2="344.84" stroke="#000" stroke-width="1.1"/>
<text x="808.1" y="349.84" font-size="13.9" textLength="16.6" lengthAdjust="spacingAndGlyphs">25</text>
<line x1="798.5" y1="389.75" x2="803.4" y2="389.75" stroke="#000" stroke-width="1.1"/>
<text x="808.1" y="394.75" font-size="13.9" textLength="16.6" lengthAdjust="spacingAndGlyphs">20</text>
<line x1="798.5" y1="434.66" x2="803.4" y2="434.66" stroke="#000" stroke-width="1.1"/>
<text x="808.1" y="439.66" font-size="13.9" textLength="16.6" lengthAdjust="spacingAndGlyphs">15</text>
<line x1="798.5" y1="479.57" x2="803.4" y2="479.57" stroke="#000" stroke-width="1.1"/>
<text x="808.1" y="484.57" font-size="13.9" textLength="16.6" lengthAdjust="spacingAndGlyphs">10</text>
<line x1="798.5" y1="524.47" x2="803.4" y2="524.47" stroke="#000" stroke-width="1.1"/>
<text x="808.1" y="529.47" font-size="13.9" textLength="8.3" lengthAdjust="spacingAndGlyphs">5</text>
<line x1="798.5" y1="569.38" x2="803.4" y2="569.38" stroke="#000" stroke-width="1.1"/>
<text x="808.1" y="574.38" font-size="13.9" textLength="8.3" lengthAdjust="spacingAndGlyphs">0</text>
<line x1="798.5" y1="614.29" x2="803.4" y2="614.29" stroke="#000" stroke-width="1.1"/>
<text x="808.1" y="619.29" font-size="13.9" textLength="13.8" lengthAdjust="spacingAndGlyphs">-5</text>
<line x1="798.5" y1="659.20" x2="803.4" y2="659.20" stroke="#000" stroke-width="1.1"/>
<text x="808.1" y="664.20" font-size="13.9" textLength="22.1" lengthAdjust="spacingAndGlyphs">-10</text>
<text x="255.4" y="24.6" font-size="19.4" textLength="252.8" lengthAdjust="spacingAndGlyphs">UAE 2m Temperature (°C)</text>
<text x="222.8" y="46.7" font-size="19.4" textLength="317.7" lengthAdjust="spacingAndGlyphs">2026-01-22 18:00 @ UTC+00:00</text>
<text x="226.0" y="68.6" font-size="19.4" textLength="311.8" lengthAdjust="spacingAndGlyphs">2026-01-22 22:00 @ Local Time</text>
<text x="116.4" y="775.0" font-size="13.9" textLength="531.6" lengthAdjust="spacingAndGlyphs">WRF model data processed and visualized by the RIMES R&amp;D Team. © 2025</text>
<g>
<defs><clipPath id="lg"><circle cx="706.5" cy="652" r="23.6"/></clipPath>
<path id="ring" d="M691.1,672.1 A 25.3 25.3 0 1 1 722.2,671.9"/></defs>
<circle cx="706.5" cy="652" r="29.5" fill="#ffffff"/>
<text font-size="4.7" font-weight="bold" fill="#3f7ec8"><textPath href="#ring" startOffset="0" textLength="125" lengthAdjust="spacingAndGlyphs">Regional Integrated Multi-Hazard Early Warning System</textPath></text>
<circle cx="706.5" cy="652" r="23.6" fill="#1b4c8c"/>
<g clip-path="url(#lg)">
<path d="M680,663 C688,656 696,652 703,653 C712,655 720,660 726,663 L726,680 L680,680Z" fill="#5a9bd8"/>
<path d="M680,670 C690,668 698,666 704,664 L720,672 L730,680 L680,680Z" fill="#2c6fb5"/>
<path d="M683,661 C689,656 695,653 701,653" fill="none" stroke="#fff" stroke-width="1.3"/>
<path d="M690,669 C697,668 702,666 705,664 L721,672" fill="none" stroke="#fff" stroke-width="1"/>
<path d="M716,662 L720,652 L722.5,646 L724,650 L725,655 L727,659 L727.5,666 L722,670 L720,676 L716,676Z" fill="#fff"/>
<path d="M722.5,646 L719,649 M722.5,646 L727,644.5 M722.5,646 L726.5,649.5 M722.5,646 L721,643.5" stroke="#fff" stroke-width="1.1" fill="none"/>
<path d="M702,643 L722,643" stroke="#6da0d6" stroke-width="0.5"/>
<path d="M691,644 L692,638 L693,648 L694.2,636 L695.4,650 L696.6,637 L697.8,648 L699,639 L700,645" fill="none" stroke="#cfe0f3" stroke-width="0.8"/>
</g>
<text x="690.6" y="685.7" font-size="9.8" font-weight="bold" fill="#1f3f80" stroke="#1f3f80" stroke-width="0.35" textLength="33.2" lengthAdjust="spacingAndGlyphs">RIMES</text>
</g>
</svg>
</body></html>
